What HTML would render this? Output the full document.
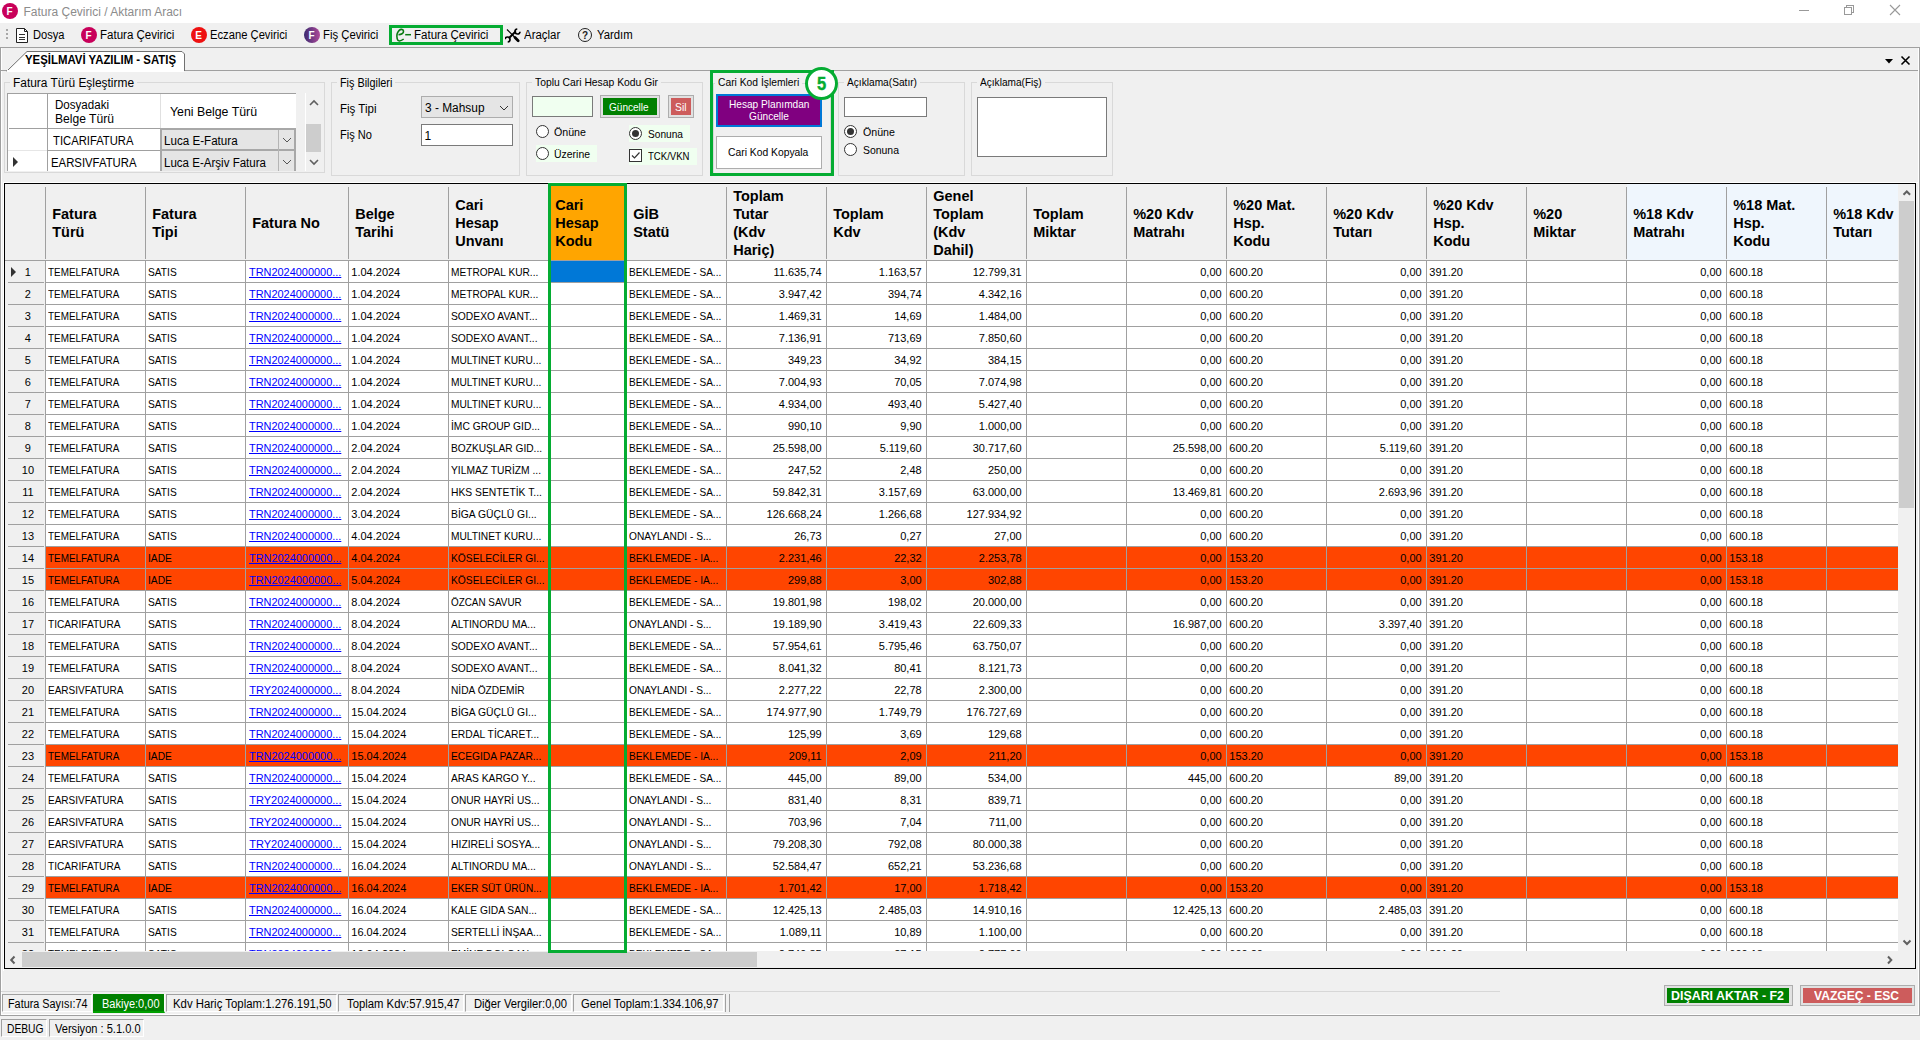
<!DOCTYPE html>
<html><head><meta charset="utf-8"><title>Fatura Çevirici</title>
<style>
html,body{margin:0;padding:0;}
body{width:1920px;height:1040px;overflow:hidden;background:#f0f0f0;position:relative;font-family:"Liberation Sans",sans-serif;}
div,span,svg{position:absolute;}
.t{white-space:pre;display:block;}
</style></head><body>
<div style="left:0px;top:0px;width:1920px;height:23px;background:#fff"></div>
<div style="left:2px;top:3px;width:16px;height:16px;background:#c8005a;border-radius:50%"></div>
<span class="t" style="left:6.60px;top:7.04px;font-size:10px;line-height:10px;font-weight:bold;color:#fff;transform-origin:0 0;">F</span>
<span class="t" style="left:23.50px;top:5.84px;font-size:12px;line-height:12px;color:#8c8c8c;transform-origin:0 0;">Fatura Çevirici / Aktarım Aracı</span>
<div style="left:1799px;top:10px;width:10px;height:1px;background:#999"></div>
<div style="left:1846px;top:5px;width:8px;height:8px;border:1px solid #999;box-sizing:border-box"></div>
<div style="left:1844px;top:7px;width:8px;height:8px;border:1px solid #999;box-sizing:border-box;background:#fff"></div>
<svg style="position:absolute;left:1889px;top:4px" width="12" height="12"><path d="M1 1L11 11M11 1L1 11" stroke="#999" stroke-width="1.1"/></svg>
<div style="left:6px;top:29px;width:2px;height:2px;background:#a8a8a8"></div>
<div style="left:6px;top:33px;width:2px;height:2px;background:#a8a8a8"></div>
<div style="left:6px;top:37px;width:2px;height:2px;background:#a8a8a8"></div>
<svg style="position:absolute;left:15px;top:27px" width="14" height="17"><path d="M1.5 1.5H9.5L12.5 4.5V15.5H1.5Z" fill="#fff" stroke="#222" stroke-width="1"/><path d="M9.5 1.5V4.5H12.5" fill="none" stroke="#222"/><path d="M4 7.5H10M4 10.5H10M4 12.5H10" stroke="#333" stroke-width="1"/></svg>
<span class="t" style="left:33.30px;top:28.84px;font-size:12px;line-height:12px;color:#000;transform:scaleX(0.9260);transform-origin:0 0;">Dosya</span>
<div style="left:81px;top:27px;width:16px;height:16px;background:#c8005a;border-radius:50%"></div>
<span class="t" style="left:85.60px;top:31.04px;font-size:10px;line-height:10px;font-weight:bold;color:#fff;transform-origin:0 0;">F</span>
<span class="t" style="left:100.00px;top:28.84px;font-size:12px;line-height:12px;color:#000;transform:scaleX(0.9605);transform-origin:0 0;">Fatura Çevirici</span>
<div style="left:191px;top:27px;width:16px;height:16px;background:#ee1111;border-radius:50%"></div>
<span class="t" style="left:195.30px;top:31.04px;font-size:10px;line-height:10px;font-weight:bold;color:#fff;transform-origin:0 0;">E</span>
<span class="t" style="left:210.00px;top:28.84px;font-size:12px;line-height:12px;color:#000;transform:scaleX(0.9347);transform-origin:0 0;">Eczane Çevirici</span>
<div style="left:304px;top:27px;width:16px;height:16px;background:linear-gradient(90deg,#3a2a70,#b04a9a);border-radius:50%"></div>
<span class="t" style="left:308.60px;top:31.04px;font-size:10px;line-height:10px;font-weight:bold;color:#fff;transform-origin:0 0;">F</span>
<span class="t" style="left:323.30px;top:28.84px;font-size:12px;line-height:12px;color:#000;transform:scaleX(0.9423);transform-origin:0 0;">Fiş Çevirici</span>
<div style="left:389px;top:25px;width:114px;height:20px;border:3px solid #05ac32;box-sizing:border-box"></div>
<svg style="position:absolute;left:394px;top:28px" width="18" height="15"><path d="M4.5 6.7C7 6.5 9.8 5.5 9.5 3.2C9.2 0.8 6.5 1 5 2.6C3.2 4.5 2.5 8 3.2 10.8C3.8 13.5 6.2 13.8 9.7 11" fill="none" stroke="#0a7a12" stroke-width="1.6"/><path d="M11.2 6.7H17" stroke="#0a7a12" stroke-width="1.5"/></svg>
<span class="t" style="left:414.30px;top:28.84px;font-size:12px;line-height:12px;color:#000;transform:scaleX(0.9605);transform-origin:0 0;">Fatura Çevirici</span>
<svg style="position:absolute;left:505px;top:28px" width="16" height="16"><path d="M2 1.5L9.5 9" stroke="#000" stroke-width="1.2"/><path d="M10 9.5L13.2 12.7" stroke="#000" stroke-width="2.8" stroke-linecap="round"/><path d="M3.8 10.2L10.8 3.3" stroke="#000" stroke-width="2"/><path d="M15 3.7A2.5 2.5 0 1 1 12.28 1.0" fill="none" stroke="#000" stroke-width="1.7"/><path d="M0.01 11.28A2.5 2.5 0 1 1 2.72 13.99" fill="none" stroke="#000" stroke-width="1.7"/></svg>
<span class="t" style="left:524.30px;top:28.84px;font-size:12px;line-height:12px;color:#000;transform:scaleX(0.9549);transform-origin:0 0;">Araçlar</span>
<div style="left:578px;top:28px;width:14px;height:14px;border:1.3px solid #222;border-radius:50%;box-sizing:border-box"></div>
<span class="t" style="left:581.95px;top:30.54px;font-size:10px;line-height:10px;font-weight:bold;color:#222;transform-origin:0 0;">?</span>
<span class="t" style="left:596.70px;top:28.84px;font-size:12px;line-height:12px;color:#000;transform:scaleX(0.9449);transform-origin:0 0;">Yardım</span>
<div style="left:0px;top:47px;width:1920px;height:1px;background:#a0a0a0"></div>
<div style="left:0px;top:47px;width:1px;height:969px;background:#a0a0a0"></div>
<div style="left:1919px;top:47px;width:1px;height:969px;background:#a0a0a0"></div>
<div style="left:1px;top:48px;width:1px;height:967px;background:#fff"></div>
<div style="left:0px;top:70px;width:1920px;height:1px;background:#a0a0a0"></div>
<svg style="position:absolute;left:0;top:50px" width="190" height="22"><path d="M6.5 21H7L27 1.5H182L184.5 4V21" fill="#fff" stroke="#707070" stroke-width="1"/><rect x="7" y="20" width="177" height="2" fill="#fff"/></svg>
<span class="t" style="left:24.80px;top:53.84px;font-size:12px;line-height:12px;font-weight:bold;color:#000;transform:scaleX(0.9505);transform-origin:0 0;">YEŞİLMAVİ YAZILIM - SATIŞ</span>
<svg style="position:absolute;left:1884px;top:55px" width="30" height="11"><path d="M1 4H9L5 8.5Z" fill="#000"/><path d="M17.5 1.5L25.5 9.5M25.5 1.5L17.5 9.5" stroke="#000" stroke-width="1.6"/></svg>
<div style="left:4px;top:82px;width:321px;height:91px;border:1px solid #d9d9d9;box-sizing:border-box"></div>
<div style="left:10.4px;top:76px;width:127px;height:12px;background:#f0f0f0"></div>
<span class="t" style="left:13.40px;top:77.14px;font-size:12px;line-height:12px;color:#000;transform:scaleX(0.9935);transform-origin:0 0;">Fatura Türü Eşleştirme</span>
<div style="left:7px;top:93px;width:289px;height:78px;background:#fff;border-top:1px solid #a0a0a0;border-left:1px solid #a0a0a0;box-sizing:border-box"></div>
<div style="left:47px;top:94px;width:1px;height:77px;background:#a0a0a0"></div>
<div style="left:160px;top:94px;width:1px;height:35px;background:#e0e0e0"></div>
<div style="left:9px;top:128px;width:287px;height:1px;background:#a0a0a0"></div>
<div style="left:8px;top:150px;width:39px;height:1px;background:#e6e6e6"></div>
<div style="left:48px;top:150px;width:113px;height:1px;background:#a0a0a0"></div>
<span class="t" style="left:55.30px;top:99.14px;font-size:12px;line-height:12px;color:#000;transform:scaleX(0.9637);transform-origin:0 0;">Dosyadaki</span>
<span class="t" style="left:55.30px;top:113.14px;font-size:12px;line-height:12px;color:#000;transform:scaleX(1.0091);transform-origin:0 0;">Belge Türü</span>
<span class="t" style="left:169.60px;top:106.34px;font-size:12px;line-height:12px;color:#000;transform:scaleX(1.0269);transform-origin:0 0;">Yeni Belge Türü</span>
<span class="t" style="left:52.80px;top:134.84px;font-size:12px;line-height:12px;color:#000;transform:scaleX(0.9384);transform-origin:0 0;">TICARIFATURA</span>
<span class="t" style="left:51.00px;top:156.84px;font-size:12px;line-height:12px;color:#000;transform:scaleX(0.9452);transform-origin:0 0;">EARSIVFATURA</span>
<div style="left:160px;top:128px;width:136px;height:43px;background:#e5e5e5;border:2px solid #a8a8a8;border-bottom:none;box-sizing:border-box"></div>
<div style="left:160px;top:149px;width:136px;height:2px;background:#a8a8a8"></div>
<div style="left:278px;top:130px;width:1px;height:41px;background:#b4b4b4"></div>
<span class="t" style="left:164.00px;top:134.84px;font-size:12px;line-height:12px;color:#000;transform:scaleX(0.9682);transform-origin:0 0;">Luca E-Fatura</span>
<span class="t" style="left:164.00px;top:157.04px;font-size:12px;line-height:12px;color:#000;transform:scaleX(0.9621);transform-origin:0 0;">Luca E-Arşiv Fatura</span>
<svg style="position:absolute;left:282px;top:137px" width="10" height="6"><path d="M1 1L5 5L9 1" fill="none" stroke="#555" stroke-width="1"/></svg>
<svg style="position:absolute;left:282px;top:158.5px" width="10" height="6"><path d="M1 1L5 5L9 1" fill="none" stroke="#555" stroke-width="1"/></svg>
<svg style="position:absolute;left:13px;top:157px" width="6" height="10"><path d="M0 0L5 5L0 10Z" fill="#333"/></svg>
<div style="left:305px;top:93px;width:19px;height:78px;background:#f0f0f0;border-left:1px solid #fff;box-sizing:border-box"></div>
<div style="left:306px;top:124px;width:15px;height:28px;background:#cdcdcd"></div>
<svg style="position:absolute;left:309px;top:99px" width="10" height="7"><path d="M1 6L5 2L9 6" fill="none" stroke="#606060" stroke-width="1.6"/></svg>
<svg style="position:absolute;left:309px;top:159px" width="10" height="7"><path d="M1 1L5 5L9 1" fill="none" stroke="#606060" stroke-width="1.6"/></svg>
<div style="left:331px;top:82px;width:189px;height:94px;border:1px solid #d9d9d9;box-sizing:border-box"></div>
<div style="left:337px;top:76px;width:58.4px;height:12px;background:#f0f0f0"></div>
<span class="t" style="left:340.00px;top:77.14px;font-size:12px;line-height:12px;color:#000;transform:scaleX(0.9030);transform-origin:0 0;">Fiş Bilgileri</span>
<span class="t" style="left:340.00px;top:103.34px;font-size:12px;line-height:12px;color:#000;transform:scaleX(0.9601);transform-origin:0 0;">Fiş Tipi</span>
<span class="t" style="left:340.00px;top:128.64px;font-size:12px;line-height:12px;color:#000;transform:scaleX(0.9229);transform-origin:0 0;">Fiş No</span>
<div style="left:421px;top:96px;width:92px;height:22px;background:#e5e5e5;border:1px solid #adadad;box-sizing:border-box"></div>
<span class="t" style="left:424.80px;top:101.84px;font-size:12px;line-height:12px;color:#000;transform:scaleX(0.9914);transform-origin:0 0;">3 - Mahsup</span>
<svg style="position:absolute;left:499px;top:105px" width="10" height="6"><path d="M1 1L5 5L9 1" fill="none" stroke="#333" stroke-width="1"/></svg>
<div style="left:421px;top:124px;width:92px;height:22px;background:#fff;border:1px solid #7a7a7a;box-sizing:border-box"></div>
<span class="t" style="left:424.50px;top:129.84px;font-size:12px;line-height:12px;color:#000;transform-origin:0 0;">1</span>
<div style="left:526px;top:82px;width:177px;height:94px;border:1px solid #d9d9d9;box-sizing:border-box"></div>
<div style="left:531.8px;top:76px;width:129px;height:12px;background:#f0f0f0"></div>
<span class="t" style="left:534.80px;top:76.59px;font-size:11px;line-height:11px;color:#000;transform:scaleX(0.9396);transform-origin:0 0;">Toplu Cari Hesap Kodu Gir</span>
<div style="left:532px;top:96px;width:61px;height:21px;background:#f0fff0;border:1px solid #7a7a7a;box-sizing:border-box"></div>
<div style="left:600px;top:95px;width:60px;height:23px;background:#e1e1e1;border:1px solid #adadad;box-sizing:border-box"></div>
<div style="left:603px;top:98px;width:54px;height:17px;background:#008000"></div>
<span class="t" style="left:608.70px;top:102.19px;font-size:11px;line-height:11px;color:#fff;transform:scaleX(0.9140);transform-origin:0 0;">Güncelle</span>
<div style="left:668px;top:95px;width:26px;height:23px;background:#e1e1e1;border:1px solid #adadad;box-sizing:border-box"></div>
<div style="left:671px;top:98px;width:20px;height:17px;background:#cd5c5c"></div>
<span class="t" style="left:674.50px;top:102.19px;font-size:11px;line-height:11px;color:#fff;transform:scaleX(0.9412);transform-origin:0 0;">Sil</span>
<div style="left:535.9px;top:124.80000000000001px;width:13px;height:13px;border:1px solid #333;border-radius:50%;box-sizing:border-box;background:#fff"></div>
<span class="t" style="left:554.40px;top:126.69px;font-size:11px;line-height:11px;color:#000;transform:scaleX(0.9679);transform-origin:0 0;">Önüne</span>
<div style="left:536px;top:145px;width:61px;height:17px;background:#f0fff0"></div>
<div style="left:535.9px;top:147.1px;width:13px;height:13px;border:1px solid #333;border-radius:50%;box-sizing:border-box;background:#fff"></div>
<span class="t" style="left:554.40px;top:148.69px;font-size:11px;line-height:11px;color:#000;transform:scaleX(0.9497);transform-origin:0 0;">Üzerine</span>
<div style="left:629px;top:125px;width:61px;height:17px;background:#f0fff0"></div>
<div style="left:628.8px;top:127.0px;width:13px;height:13px;border:1px solid #333;border-radius:50%;box-sizing:border-box;background:#fff"></div>
<div style="left:631.8px;top:130.0px;width:7px;height:7px;background:#333;border-radius:50%"></div>
<span class="t" style="left:647.60px;top:128.69px;font-size:11px;line-height:11px;color:#000;transform:scaleX(0.9218);transform-origin:0 0;">Sonuna</span>
<div style="left:629px;top:148px;width:68px;height:17px;background:#f0fff0"></div>
<div style="left:629px;top:149px;width:13px;height:13px;border:1px solid #333;box-sizing:border-box;background:#fff"></div>
<svg style="position:absolute;left:630px;top:150px" width="11" height="11"><path d="M2 5.5L4.5 8L9.5 2.5" fill="none" stroke="#333" stroke-width="1.2"/></svg>
<span class="t" style="left:647.50px;top:151.19px;font-size:11px;line-height:11px;color:#000;transform:scaleX(0.8702);transform-origin:0 0;">TCK/VKN</span>
<div style="left:713px;top:83px;width:118px;height:93px;border:1px solid #d9d9d9;box-sizing:border-box"></div>
<div style="left:714.8px;top:77px;width:87.2px;height:12px;background:#f0f0f0"></div>
<span class="t" style="left:717.80px;top:76.59px;font-size:11px;line-height:11px;color:#000;transform:scaleX(0.9353);transform-origin:0 0;">Cari Kod İşlemleri</span>
<div style="left:716px;top:94px;width:106px;height:33px;background:#800080;border:2px solid #0078d7;box-sizing:border-box"></div>
<span class="t" style="left:728.75px;top:98.69px;font-size:11px;line-height:11px;color:#fff;transform:scaleX(0.9200);transform-origin:0 0;">Hesap Planımdan</span>
<span class="t" style="left:749.00px;top:111.19px;font-size:11px;line-height:11px;color:#fff;transform:scaleX(0.9209);transform-origin:0 0;">Güncelle</span>
<div style="left:716px;top:136px;width:106px;height:33px;background:#fff;border:1px solid #adadad;box-sizing:border-box"></div>
<span class="t" style="left:727.60px;top:147.19px;font-size:11px;line-height:11px;color:#000;transform:scaleX(0.9386);transform-origin:0 0;">Cari Kod Kopyala</span>
<div style="left:710px;top:70px;width:124px;height:106px;border:3px solid #05ac32;box-sizing:border-box"></div>
<div style="left:805px;top:67px;width:33px;height:33px;border:3px solid #05ac32;border-radius:50%;box-sizing:border-box;background:#fff"></div>
<span class="t" style="left:817.00px;top:75.06px;font-size:18px;line-height:18px;font-weight:bold;color:#05ac32;transform:scaleX(0.9186);transform-origin:0 0;-webkit-text-stroke:0.4px #05ac32;">5</span>
<div style="left:838px;top:82px;width:127px;height:94px;border:1px solid #d9d9d9;box-sizing:border-box"></div>
<div style="left:843.9px;top:76px;width:76px;height:12px;background:#f0f0f0"></div>
<span class="t" style="left:846.90px;top:76.59px;font-size:11px;line-height:11px;color:#000;transform:scaleX(0.9233);transform-origin:0 0;">Açıklama(Satır)</span>
<div style="left:844px;top:97px;width:83px;height:20px;background:#fff;border:1px solid #7a7a7a;box-sizing:border-box"></div>
<div style="left:843.8px;top:124.9px;width:13px;height:13px;border:1px solid #333;border-radius:50%;box-sizing:border-box;background:#fff"></div>
<div style="left:846.8px;top:127.9px;width:7px;height:7px;background:#333;border-radius:50%"></div>
<span class="t" style="left:862.50px;top:126.69px;font-size:11px;line-height:11px;color:#000;transform:scaleX(0.9679);transform-origin:0 0;">Önüne</span>
<div style="left:843.8px;top:142.9px;width:13px;height:13px;border:1px solid #333;border-radius:50%;box-sizing:border-box;background:#fff"></div>
<span class="t" style="left:862.50px;top:144.69px;font-size:11px;line-height:11px;color:#000;transform:scaleX(0.9481);transform-origin:0 0;">Sonuna</span>
<div style="left:971px;top:82px;width:142px;height:94px;border:1px solid #d9d9d9;box-sizing:border-box"></div>
<div style="left:977px;top:76px;width:67.7px;height:12px;background:#f0f0f0"></div>
<span class="t" style="left:980.00px;top:76.59px;font-size:11px;line-height:11px;color:#000;transform:scaleX(0.9179);transform-origin:0 0;">Açıklama(Fiş)</span>
<div style="left:977px;top:97px;width:130px;height:60px;background:#fff;border:1px solid #7a7a7a;box-sizing:border-box"></div>
<div style="left:3px;top:182px;width:1914px;height:788px;border-top:1px solid #fff;border-left:1px solid #fff"></div>
<div style="left:4px;top:183px;width:1912px;height:786px;border:1px solid #000;box-sizing:border-box;background:#f0f0f0"></div>
<div style="left:5px;top:184px;width:1px;height:767px;background:#f8f8f8"></div>
<div style="left:5px;top:184px;width:1893px;height:76px;background:#f0f0f0"></div>
<div style="left:1627px;top:184px;width:271px;height:76px;background:#eff6fd"></div>
<div style="left:549px;top:184px;width:77px;height:76px;background:#ffa500"></div>
<div style="left:45px;top:187px;width:1px;height:72px;background:#a0a0a0"></div>
<div style="left:145px;top:187px;width:1px;height:72px;background:#a0a0a0"></div>
<div style="left:245px;top:187px;width:1px;height:72px;background:#a0a0a0"></div>
<div style="left:348px;top:187px;width:1px;height:72px;background:#a0a0a0"></div>
<div style="left:448px;top:187px;width:1px;height:72px;background:#a0a0a0"></div>
<div style="left:726px;top:187px;width:1px;height:72px;background:#a0a0a0"></div>
<div style="left:826px;top:187px;width:1px;height:72px;background:#a0a0a0"></div>
<div style="left:926px;top:187px;width:1px;height:72px;background:#a0a0a0"></div>
<div style="left:1026px;top:187px;width:1px;height:72px;background:#a0a0a0"></div>
<div style="left:1126px;top:187px;width:1px;height:72px;background:#a0a0a0"></div>
<div style="left:1226px;top:187px;width:1px;height:72px;background:#a0a0a0"></div>
<div style="left:1326px;top:187px;width:1px;height:72px;background:#a0a0a0"></div>
<div style="left:1426px;top:187px;width:1px;height:72px;background:#a0a0a0"></div>
<div style="left:1526px;top:187px;width:1px;height:72px;background:#a0a0a0"></div>
<div style="left:1626px;top:187px;width:1px;height:72px;background:#a0a0a0"></div>
<div style="left:1726px;top:187px;width:1px;height:72px;background:#a0a0a0"></div>
<div style="left:1826px;top:187px;width:1px;height:72px;background:#a0a0a0"></div>
<div style="left:5px;top:260px;width:1893px;height:1px;background:#a0a0a0"></div>
<span class="t" style="left:52.20px;top:207.15px;font-size:14.5px;line-height:14.5px;font-weight:bold;color:#000;transform-origin:0 0;">Fatura</span>
<span class="t" style="left:52.20px;top:224.90px;font-size:14.5px;line-height:14.5px;font-weight:bold;color:#000;transform-origin:0 0;">Türü</span>
<span class="t" style="left:152.20px;top:207.15px;font-size:14.5px;line-height:14.5px;font-weight:bold;color:#000;transform-origin:0 0;">Fatura</span>
<span class="t" style="left:152.20px;top:224.90px;font-size:14.5px;line-height:14.5px;font-weight:bold;color:#000;transform-origin:0 0;">Tipi</span>
<span class="t" style="left:252.20px;top:216.03px;font-size:14.5px;line-height:14.5px;font-weight:bold;color:#000;transform-origin:0 0;">Fatura No</span>
<span class="t" style="left:355.20px;top:207.15px;font-size:14.5px;line-height:14.5px;font-weight:bold;color:#000;transform-origin:0 0;">Belge</span>
<span class="t" style="left:355.20px;top:224.90px;font-size:14.5px;line-height:14.5px;font-weight:bold;color:#000;transform-origin:0 0;">Tarihi</span>
<span class="t" style="left:455.20px;top:198.28px;font-size:14.5px;line-height:14.5px;font-weight:bold;color:#000;transform-origin:0 0;">Cari</span>
<span class="t" style="left:455.20px;top:216.03px;font-size:14.5px;line-height:14.5px;font-weight:bold;color:#000;transform-origin:0 0;">Hesap</span>
<span class="t" style="left:455.20px;top:233.78px;font-size:14.5px;line-height:14.5px;font-weight:bold;color:#000;transform-origin:0 0;">Unvanı</span>
<span class="t" style="left:555.20px;top:198.28px;font-size:14.5px;line-height:14.5px;font-weight:bold;color:#000;transform-origin:0 0;">Cari</span>
<span class="t" style="left:555.20px;top:216.03px;font-size:14.5px;line-height:14.5px;font-weight:bold;color:#000;transform-origin:0 0;">Hesap</span>
<span class="t" style="left:555.20px;top:233.78px;font-size:14.5px;line-height:14.5px;font-weight:bold;color:#000;transform-origin:0 0;">Kodu</span>
<span class="t" style="left:633.20px;top:207.15px;font-size:14.5px;line-height:14.5px;font-weight:bold;color:#000;transform-origin:0 0;">GİB</span>
<span class="t" style="left:633.20px;top:224.90px;font-size:14.5px;line-height:14.5px;font-weight:bold;color:#000;transform-origin:0 0;">Statü</span>
<span class="t" style="left:733.20px;top:189.40px;font-size:14.5px;line-height:14.5px;font-weight:bold;color:#000;transform-origin:0 0;">Toplam</span>
<span class="t" style="left:733.20px;top:207.15px;font-size:14.5px;line-height:14.5px;font-weight:bold;color:#000;transform-origin:0 0;">Tutar</span>
<span class="t" style="left:733.20px;top:224.90px;font-size:14.5px;line-height:14.5px;font-weight:bold;color:#000;transform-origin:0 0;">(Kdv</span>
<span class="t" style="left:733.20px;top:242.65px;font-size:14.5px;line-height:14.5px;font-weight:bold;color:#000;transform-origin:0 0;">Hariç)</span>
<span class="t" style="left:833.20px;top:207.15px;font-size:14.5px;line-height:14.5px;font-weight:bold;color:#000;transform-origin:0 0;">Toplam</span>
<span class="t" style="left:833.20px;top:224.90px;font-size:14.5px;line-height:14.5px;font-weight:bold;color:#000;transform-origin:0 0;">Kdv</span>
<span class="t" style="left:933.20px;top:189.40px;font-size:14.5px;line-height:14.5px;font-weight:bold;color:#000;transform-origin:0 0;">Genel</span>
<span class="t" style="left:933.20px;top:207.15px;font-size:14.5px;line-height:14.5px;font-weight:bold;color:#000;transform-origin:0 0;">Toplam</span>
<span class="t" style="left:933.20px;top:224.90px;font-size:14.5px;line-height:14.5px;font-weight:bold;color:#000;transform-origin:0 0;">(Kdv</span>
<span class="t" style="left:933.20px;top:242.65px;font-size:14.5px;line-height:14.5px;font-weight:bold;color:#000;transform-origin:0 0;">Dahil)</span>
<span class="t" style="left:1033.20px;top:207.15px;font-size:14.5px;line-height:14.5px;font-weight:bold;color:#000;transform-origin:0 0;">Toplam</span>
<span class="t" style="left:1033.20px;top:224.90px;font-size:14.5px;line-height:14.5px;font-weight:bold;color:#000;transform-origin:0 0;">Miktar</span>
<span class="t" style="left:1133.20px;top:207.15px;font-size:14.5px;line-height:14.5px;font-weight:bold;color:#000;transform-origin:0 0;">%20 Kdv</span>
<span class="t" style="left:1133.20px;top:224.90px;font-size:14.5px;line-height:14.5px;font-weight:bold;color:#000;transform-origin:0 0;">Matrahı</span>
<span class="t" style="left:1233.20px;top:198.28px;font-size:14.5px;line-height:14.5px;font-weight:bold;color:#000;transform-origin:0 0;">%20 Mat.</span>
<span class="t" style="left:1233.20px;top:216.03px;font-size:14.5px;line-height:14.5px;font-weight:bold;color:#000;transform-origin:0 0;">Hsp.</span>
<span class="t" style="left:1233.20px;top:233.78px;font-size:14.5px;line-height:14.5px;font-weight:bold;color:#000;transform-origin:0 0;">Kodu</span>
<span class="t" style="left:1333.20px;top:207.15px;font-size:14.5px;line-height:14.5px;font-weight:bold;color:#000;transform-origin:0 0;">%20 Kdv</span>
<span class="t" style="left:1333.20px;top:224.90px;font-size:14.5px;line-height:14.5px;font-weight:bold;color:#000;transform-origin:0 0;">Tutarı</span>
<span class="t" style="left:1433.20px;top:198.28px;font-size:14.5px;line-height:14.5px;font-weight:bold;color:#000;transform-origin:0 0;">%20 Kdv</span>
<span class="t" style="left:1433.20px;top:216.03px;font-size:14.5px;line-height:14.5px;font-weight:bold;color:#000;transform-origin:0 0;">Hsp.</span>
<span class="t" style="left:1433.20px;top:233.78px;font-size:14.5px;line-height:14.5px;font-weight:bold;color:#000;transform-origin:0 0;">Kodu</span>
<span class="t" style="left:1533.20px;top:207.15px;font-size:14.5px;line-height:14.5px;font-weight:bold;color:#000;transform-origin:0 0;">%20</span>
<span class="t" style="left:1533.20px;top:224.90px;font-size:14.5px;line-height:14.5px;font-weight:bold;color:#000;transform-origin:0 0;">Miktar</span>
<span class="t" style="left:1633.20px;top:207.15px;font-size:14.5px;line-height:14.5px;font-weight:bold;color:#000;transform-origin:0 0;">%18 Kdv</span>
<span class="t" style="left:1633.20px;top:224.90px;font-size:14.5px;line-height:14.5px;font-weight:bold;color:#000;transform-origin:0 0;">Matrahı</span>
<span class="t" style="left:1733.20px;top:198.28px;font-size:14.5px;line-height:14.5px;font-weight:bold;color:#000;transform-origin:0 0;">%18 Mat.</span>
<span class="t" style="left:1733.20px;top:216.03px;font-size:14.5px;line-height:14.5px;font-weight:bold;color:#000;transform-origin:0 0;">Hsp.</span>
<span class="t" style="left:1733.20px;top:233.78px;font-size:14.5px;line-height:14.5px;font-weight:bold;color:#000;transform-origin:0 0;">Kodu</span>
<span class="t" style="left:1833.20px;top:207.15px;font-size:14.5px;line-height:14.5px;font-weight:bold;color:#000;transform-origin:0 0;">%18 Kdv</span>
<span class="t" style="left:1833.20px;top:224.90px;font-size:14.5px;line-height:14.5px;font-weight:bold;color:#000;transform-origin:0 0;">Tutarı</span>
<div style="left:46px;top:261px;width:1852px;height:690px;background:#fff"></div>
<div style="left:5px;top:261px;width:40px;height:690px;background:#f0f0f0"></div>
<div style="left:46px;top:282px;width:1852px;height:1px;background:#a0a0a0"></div>
<div style="left:8px;top:282px;width:36px;height:1px;background:#a0a0a0"></div>
<div style="left:46px;top:304px;width:1852px;height:1px;background:#a0a0a0"></div>
<div style="left:8px;top:304px;width:36px;height:1px;background:#a0a0a0"></div>
<div style="left:46px;top:326px;width:1852px;height:1px;background:#a0a0a0"></div>
<div style="left:8px;top:326px;width:36px;height:1px;background:#a0a0a0"></div>
<div style="left:46px;top:348px;width:1852px;height:1px;background:#a0a0a0"></div>
<div style="left:8px;top:348px;width:36px;height:1px;background:#a0a0a0"></div>
<div style="left:46px;top:370px;width:1852px;height:1px;background:#a0a0a0"></div>
<div style="left:8px;top:370px;width:36px;height:1px;background:#a0a0a0"></div>
<div style="left:46px;top:392px;width:1852px;height:1px;background:#a0a0a0"></div>
<div style="left:8px;top:392px;width:36px;height:1px;background:#a0a0a0"></div>
<div style="left:46px;top:414px;width:1852px;height:1px;background:#a0a0a0"></div>
<div style="left:8px;top:414px;width:36px;height:1px;background:#a0a0a0"></div>
<div style="left:46px;top:436px;width:1852px;height:1px;background:#a0a0a0"></div>
<div style="left:8px;top:436px;width:36px;height:1px;background:#a0a0a0"></div>
<div style="left:46px;top:458px;width:1852px;height:1px;background:#a0a0a0"></div>
<div style="left:8px;top:458px;width:36px;height:1px;background:#a0a0a0"></div>
<div style="left:46px;top:480px;width:1852px;height:1px;background:#a0a0a0"></div>
<div style="left:8px;top:480px;width:36px;height:1px;background:#a0a0a0"></div>
<div style="left:46px;top:502px;width:1852px;height:1px;background:#a0a0a0"></div>
<div style="left:8px;top:502px;width:36px;height:1px;background:#a0a0a0"></div>
<div style="left:46px;top:524px;width:1852px;height:1px;background:#a0a0a0"></div>
<div style="left:8px;top:524px;width:36px;height:1px;background:#a0a0a0"></div>
<div style="left:46px;top:546px;width:1852px;height:1px;background:#a0a0a0"></div>
<div style="left:8px;top:546px;width:36px;height:1px;background:#a0a0a0"></div>
<div style="left:46px;top:547px;width:1852px;height:21px;background:#ff4500"></div>
<div style="left:46px;top:568px;width:1852px;height:1px;background:#a0a0a0"></div>
<div style="left:8px;top:568px;width:36px;height:1px;background:#a0a0a0"></div>
<div style="left:46px;top:569px;width:1852px;height:21px;background:#ff4500"></div>
<div style="left:46px;top:590px;width:1852px;height:1px;background:#a0a0a0"></div>
<div style="left:8px;top:590px;width:36px;height:1px;background:#a0a0a0"></div>
<div style="left:46px;top:612px;width:1852px;height:1px;background:#a0a0a0"></div>
<div style="left:8px;top:612px;width:36px;height:1px;background:#a0a0a0"></div>
<div style="left:46px;top:634px;width:1852px;height:1px;background:#a0a0a0"></div>
<div style="left:8px;top:634px;width:36px;height:1px;background:#a0a0a0"></div>
<div style="left:46px;top:656px;width:1852px;height:1px;background:#a0a0a0"></div>
<div style="left:8px;top:656px;width:36px;height:1px;background:#a0a0a0"></div>
<div style="left:46px;top:678px;width:1852px;height:1px;background:#a0a0a0"></div>
<div style="left:8px;top:678px;width:36px;height:1px;background:#a0a0a0"></div>
<div style="left:46px;top:700px;width:1852px;height:1px;background:#a0a0a0"></div>
<div style="left:8px;top:700px;width:36px;height:1px;background:#a0a0a0"></div>
<div style="left:46px;top:722px;width:1852px;height:1px;background:#a0a0a0"></div>
<div style="left:8px;top:722px;width:36px;height:1px;background:#a0a0a0"></div>
<div style="left:46px;top:744px;width:1852px;height:1px;background:#a0a0a0"></div>
<div style="left:8px;top:744px;width:36px;height:1px;background:#a0a0a0"></div>
<div style="left:46px;top:745px;width:1852px;height:21px;background:#ff4500"></div>
<div style="left:46px;top:766px;width:1852px;height:1px;background:#a0a0a0"></div>
<div style="left:8px;top:766px;width:36px;height:1px;background:#a0a0a0"></div>
<div style="left:46px;top:788px;width:1852px;height:1px;background:#a0a0a0"></div>
<div style="left:8px;top:788px;width:36px;height:1px;background:#a0a0a0"></div>
<div style="left:46px;top:810px;width:1852px;height:1px;background:#a0a0a0"></div>
<div style="left:8px;top:810px;width:36px;height:1px;background:#a0a0a0"></div>
<div style="left:46px;top:832px;width:1852px;height:1px;background:#a0a0a0"></div>
<div style="left:8px;top:832px;width:36px;height:1px;background:#a0a0a0"></div>
<div style="left:46px;top:854px;width:1852px;height:1px;background:#a0a0a0"></div>
<div style="left:8px;top:854px;width:36px;height:1px;background:#a0a0a0"></div>
<div style="left:46px;top:876px;width:1852px;height:1px;background:#a0a0a0"></div>
<div style="left:8px;top:876px;width:36px;height:1px;background:#a0a0a0"></div>
<div style="left:46px;top:877px;width:1852px;height:21px;background:#ff4500"></div>
<div style="left:46px;top:898px;width:1852px;height:1px;background:#a0a0a0"></div>
<div style="left:8px;top:898px;width:36px;height:1px;background:#a0a0a0"></div>
<div style="left:46px;top:920px;width:1852px;height:1px;background:#a0a0a0"></div>
<div style="left:8px;top:920px;width:36px;height:1px;background:#a0a0a0"></div>
<div style="left:46px;top:942px;width:1852px;height:1px;background:#a0a0a0"></div>
<div style="left:8px;top:942px;width:36px;height:1px;background:#a0a0a0"></div>
<div style="left:46px;top:964px;width:1852px;height:1px;background:#a0a0a0"></div>
<div style="left:8px;top:964px;width:36px;height:1px;background:#a0a0a0"></div>
<div style="left:549px;top:261px;width:77px;height:21px;background:#0078d7"></div>
<div style="left:45px;top:261px;width:1px;height:690px;background:#a0a0a0"></div>
<div style="left:145px;top:261px;width:1px;height:690px;background:#a0a0a0"></div>
<div style="left:245px;top:261px;width:1px;height:690px;background:#a0a0a0"></div>
<div style="left:348px;top:261px;width:1px;height:690px;background:#a0a0a0"></div>
<div style="left:448px;top:261px;width:1px;height:690px;background:#a0a0a0"></div>
<div style="left:548px;top:261px;width:1px;height:690px;background:#a0a0a0"></div>
<div style="left:626px;top:261px;width:1px;height:690px;background:#a0a0a0"></div>
<div style="left:726px;top:261px;width:1px;height:690px;background:#a0a0a0"></div>
<div style="left:826px;top:261px;width:1px;height:690px;background:#a0a0a0"></div>
<div style="left:926px;top:261px;width:1px;height:690px;background:#a0a0a0"></div>
<div style="left:1026px;top:261px;width:1px;height:690px;background:#a0a0a0"></div>
<div style="left:1126px;top:261px;width:1px;height:690px;background:#a0a0a0"></div>
<div style="left:1226px;top:261px;width:1px;height:690px;background:#a0a0a0"></div>
<div style="left:1326px;top:261px;width:1px;height:690px;background:#a0a0a0"></div>
<div style="left:1426px;top:261px;width:1px;height:690px;background:#a0a0a0"></div>
<div style="left:1526px;top:261px;width:1px;height:690px;background:#a0a0a0"></div>
<div style="left:1626px;top:261px;width:1px;height:690px;background:#a0a0a0"></div>
<div style="left:1726px;top:261px;width:1px;height:690px;background:#a0a0a0"></div>
<div style="left:1826px;top:261px;width:1px;height:690px;background:#a0a0a0"></div>
<span class="t" style="left:24.84px;top:266.59px;font-size:11px;line-height:11px;color:#000;transform-origin:0 0;">1</span>
<span class="t" style="left:48.30px;top:266.59px;font-size:11px;line-height:11px;color:#000;transform:scaleX(0.9007);transform-origin:0 0;">TEMELFATURA</span>
<span class="t" style="left:148.30px;top:266.59px;font-size:11px;line-height:11px;color:#000;transform:scaleX(0.9278);transform-origin:0 0;">SATIS</span>
<span class="t" style="left:249.30px;top:266.59px;font-size:11px;line-height:11px;color:#0000ff;transform:scaleX(0.9932);transform-origin:0 0;text-decoration:underline;">TRN2024000000...</span>
<span class="t" style="left:351.30px;top:266.59px;font-size:11px;line-height:11px;color:#000;transform-origin:0 0;">1.04.2024</span>
<span class="t" style="left:451.30px;top:266.59px;font-size:11px;line-height:11px;color:#000;transform:scaleX(0.9211);transform-origin:0 0;">METROPAL KUR...</span>
<span class="t" style="left:629.30px;top:266.59px;font-size:11px;line-height:11px;color:#000;transform:scaleX(0.9146);transform-origin:0 0;">BEKLEMEDE - SA...</span>
<span class="t" style="left:773.51px;top:266.59px;font-size:11px;line-height:11px;color:#000;transform-origin:0 0;">11.635,74</span>
<span class="t" style="left:878.83px;top:266.59px;font-size:11px;line-height:11px;color:#000;transform-origin:0 0;">1.163,57</span>
<span class="t" style="left:972.70px;top:266.59px;font-size:11px;line-height:11px;color:#000;transform-origin:0 0;">12.799,31</span>
<span class="t" style="left:1200.26px;top:266.59px;font-size:11px;line-height:11px;color:#000;transform-origin:0 0;">0,00</span>
<span class="t" style="left:1229.30px;top:266.59px;font-size:11px;line-height:11px;color:#000;transform-origin:0 0;">600.20</span>
<span class="t" style="left:1400.26px;top:266.59px;font-size:11px;line-height:11px;color:#000;transform-origin:0 0;">0,00</span>
<span class="t" style="left:1429.30px;top:266.59px;font-size:11px;line-height:11px;color:#000;transform-origin:0 0;">391.20</span>
<span class="t" style="left:1700.26px;top:266.59px;font-size:11px;line-height:11px;color:#000;transform-origin:0 0;">0,00</span>
<span class="t" style="left:1729.30px;top:266.59px;font-size:11px;line-height:11px;color:#000;transform-origin:0 0;">600.18</span>
<span class="t" style="left:24.84px;top:288.59px;font-size:11px;line-height:11px;color:#000;transform-origin:0 0;">2</span>
<span class="t" style="left:48.30px;top:288.59px;font-size:11px;line-height:11px;color:#000;transform:scaleX(0.9007);transform-origin:0 0;">TEMELFATURA</span>
<span class="t" style="left:148.30px;top:288.59px;font-size:11px;line-height:11px;color:#000;transform:scaleX(0.9278);transform-origin:0 0;">SATIS</span>
<span class="t" style="left:249.30px;top:288.59px;font-size:11px;line-height:11px;color:#0000ff;transform:scaleX(0.9932);transform-origin:0 0;text-decoration:underline;">TRN2024000000...</span>
<span class="t" style="left:351.30px;top:288.59px;font-size:11px;line-height:11px;color:#000;transform-origin:0 0;">1.04.2024</span>
<span class="t" style="left:451.30px;top:288.59px;font-size:11px;line-height:11px;color:#000;transform:scaleX(0.9211);transform-origin:0 0;">METROPAL KUR...</span>
<span class="t" style="left:629.30px;top:288.59px;font-size:11px;line-height:11px;color:#000;transform:scaleX(0.9146);transform-origin:0 0;">BEKLEMEDE - SA...</span>
<span class="t" style="left:778.83px;top:288.59px;font-size:11px;line-height:11px;color:#000;transform-origin:0 0;">3.947,42</span>
<span class="t" style="left:888.01px;top:288.59px;font-size:11px;line-height:11px;color:#000;transform-origin:0 0;">394,74</span>
<span class="t" style="left:978.83px;top:288.59px;font-size:11px;line-height:11px;color:#000;transform-origin:0 0;">4.342,16</span>
<span class="t" style="left:1200.26px;top:288.59px;font-size:11px;line-height:11px;color:#000;transform-origin:0 0;">0,00</span>
<span class="t" style="left:1229.30px;top:288.59px;font-size:11px;line-height:11px;color:#000;transform-origin:0 0;">600.20</span>
<span class="t" style="left:1400.26px;top:288.59px;font-size:11px;line-height:11px;color:#000;transform-origin:0 0;">0,00</span>
<span class="t" style="left:1429.30px;top:288.59px;font-size:11px;line-height:11px;color:#000;transform-origin:0 0;">391.20</span>
<span class="t" style="left:1700.26px;top:288.59px;font-size:11px;line-height:11px;color:#000;transform-origin:0 0;">0,00</span>
<span class="t" style="left:1729.30px;top:288.59px;font-size:11px;line-height:11px;color:#000;transform-origin:0 0;">600.18</span>
<span class="t" style="left:24.84px;top:310.59px;font-size:11px;line-height:11px;color:#000;transform-origin:0 0;">3</span>
<span class="t" style="left:48.30px;top:310.59px;font-size:11px;line-height:11px;color:#000;transform:scaleX(0.9007);transform-origin:0 0;">TEMELFATURA</span>
<span class="t" style="left:148.30px;top:310.59px;font-size:11px;line-height:11px;color:#000;transform:scaleX(0.9278);transform-origin:0 0;">SATIS</span>
<span class="t" style="left:249.30px;top:310.59px;font-size:11px;line-height:11px;color:#0000ff;transform:scaleX(0.9932);transform-origin:0 0;text-decoration:underline;">TRN2024000000...</span>
<span class="t" style="left:351.30px;top:310.59px;font-size:11px;line-height:11px;color:#000;transform-origin:0 0;">1.04.2024</span>
<span class="t" style="left:451.30px;top:310.59px;font-size:11px;line-height:11px;color:#000;transform:scaleX(0.9354);transform-origin:0 0;">SODEXO AVANT...</span>
<span class="t" style="left:629.30px;top:310.59px;font-size:11px;line-height:11px;color:#000;transform:scaleX(0.9146);transform-origin:0 0;">BEKLEMEDE - SA...</span>
<span class="t" style="left:778.83px;top:310.59px;font-size:11px;line-height:11px;color:#000;transform-origin:0 0;">1.469,31</span>
<span class="t" style="left:894.14px;top:310.59px;font-size:11px;line-height:11px;color:#000;transform-origin:0 0;">14,69</span>
<span class="t" style="left:978.83px;top:310.59px;font-size:11px;line-height:11px;color:#000;transform-origin:0 0;">1.484,00</span>
<span class="t" style="left:1200.26px;top:310.59px;font-size:11px;line-height:11px;color:#000;transform-origin:0 0;">0,00</span>
<span class="t" style="left:1229.30px;top:310.59px;font-size:11px;line-height:11px;color:#000;transform-origin:0 0;">600.20</span>
<span class="t" style="left:1400.26px;top:310.59px;font-size:11px;line-height:11px;color:#000;transform-origin:0 0;">0,00</span>
<span class="t" style="left:1429.30px;top:310.59px;font-size:11px;line-height:11px;color:#000;transform-origin:0 0;">391.20</span>
<span class="t" style="left:1700.26px;top:310.59px;font-size:11px;line-height:11px;color:#000;transform-origin:0 0;">0,00</span>
<span class="t" style="left:1729.30px;top:310.59px;font-size:11px;line-height:11px;color:#000;transform-origin:0 0;">600.18</span>
<span class="t" style="left:24.84px;top:332.59px;font-size:11px;line-height:11px;color:#000;transform-origin:0 0;">4</span>
<span class="t" style="left:48.30px;top:332.59px;font-size:11px;line-height:11px;color:#000;transform:scaleX(0.9007);transform-origin:0 0;">TEMELFATURA</span>
<span class="t" style="left:148.30px;top:332.59px;font-size:11px;line-height:11px;color:#000;transform:scaleX(0.9278);transform-origin:0 0;">SATIS</span>
<span class="t" style="left:249.30px;top:332.59px;font-size:11px;line-height:11px;color:#0000ff;transform:scaleX(0.9932);transform-origin:0 0;text-decoration:underline;">TRN2024000000...</span>
<span class="t" style="left:351.30px;top:332.59px;font-size:11px;line-height:11px;color:#000;transform-origin:0 0;">1.04.2024</span>
<span class="t" style="left:451.30px;top:332.59px;font-size:11px;line-height:11px;color:#000;transform:scaleX(0.9354);transform-origin:0 0;">SODEXO AVANT...</span>
<span class="t" style="left:629.30px;top:332.59px;font-size:11px;line-height:11px;color:#000;transform:scaleX(0.9146);transform-origin:0 0;">BEKLEMEDE - SA...</span>
<span class="t" style="left:778.83px;top:332.59px;font-size:11px;line-height:11px;color:#000;transform-origin:0 0;">7.136,91</span>
<span class="t" style="left:888.01px;top:332.59px;font-size:11px;line-height:11px;color:#000;transform-origin:0 0;">713,69</span>
<span class="t" style="left:978.83px;top:332.59px;font-size:11px;line-height:11px;color:#000;transform-origin:0 0;">7.850,60</span>
<span class="t" style="left:1200.26px;top:332.59px;font-size:11px;line-height:11px;color:#000;transform-origin:0 0;">0,00</span>
<span class="t" style="left:1229.30px;top:332.59px;font-size:11px;line-height:11px;color:#000;transform-origin:0 0;">600.20</span>
<span class="t" style="left:1400.26px;top:332.59px;font-size:11px;line-height:11px;color:#000;transform-origin:0 0;">0,00</span>
<span class="t" style="left:1429.30px;top:332.59px;font-size:11px;line-height:11px;color:#000;transform-origin:0 0;">391.20</span>
<span class="t" style="left:1700.26px;top:332.59px;font-size:11px;line-height:11px;color:#000;transform-origin:0 0;">0,00</span>
<span class="t" style="left:1729.30px;top:332.59px;font-size:11px;line-height:11px;color:#000;transform-origin:0 0;">600.18</span>
<span class="t" style="left:24.84px;top:354.59px;font-size:11px;line-height:11px;color:#000;transform-origin:0 0;">5</span>
<span class="t" style="left:48.30px;top:354.59px;font-size:11px;line-height:11px;color:#000;transform:scaleX(0.9007);transform-origin:0 0;">TEMELFATURA</span>
<span class="t" style="left:148.30px;top:354.59px;font-size:11px;line-height:11px;color:#000;transform:scaleX(0.9278);transform-origin:0 0;">SATIS</span>
<span class="t" style="left:249.30px;top:354.59px;font-size:11px;line-height:11px;color:#0000ff;transform:scaleX(0.9932);transform-origin:0 0;text-decoration:underline;">TRN2024000000...</span>
<span class="t" style="left:351.30px;top:354.59px;font-size:11px;line-height:11px;color:#000;transform-origin:0 0;">1.04.2024</span>
<span class="t" style="left:451.30px;top:354.59px;font-size:11px;line-height:11px;color:#000;transform:scaleX(0.9273);transform-origin:0 0;">MULTINET KURU...</span>
<span class="t" style="left:629.30px;top:354.59px;font-size:11px;line-height:11px;color:#000;transform:scaleX(0.9146);transform-origin:0 0;">BEKLEMEDE - SA...</span>
<span class="t" style="left:788.01px;top:354.59px;font-size:11px;line-height:11px;color:#000;transform-origin:0 0;">349,23</span>
<span class="t" style="left:894.14px;top:354.59px;font-size:11px;line-height:11px;color:#000;transform-origin:0 0;">34,92</span>
<span class="t" style="left:988.01px;top:354.59px;font-size:11px;line-height:11px;color:#000;transform-origin:0 0;">384,15</span>
<span class="t" style="left:1200.26px;top:354.59px;font-size:11px;line-height:11px;color:#000;transform-origin:0 0;">0,00</span>
<span class="t" style="left:1229.30px;top:354.59px;font-size:11px;line-height:11px;color:#000;transform-origin:0 0;">600.20</span>
<span class="t" style="left:1400.26px;top:354.59px;font-size:11px;line-height:11px;color:#000;transform-origin:0 0;">0,00</span>
<span class="t" style="left:1429.30px;top:354.59px;font-size:11px;line-height:11px;color:#000;transform-origin:0 0;">391.20</span>
<span class="t" style="left:1700.26px;top:354.59px;font-size:11px;line-height:11px;color:#000;transform-origin:0 0;">0,00</span>
<span class="t" style="left:1729.30px;top:354.59px;font-size:11px;line-height:11px;color:#000;transform-origin:0 0;">600.18</span>
<span class="t" style="left:24.84px;top:376.59px;font-size:11px;line-height:11px;color:#000;transform-origin:0 0;">6</span>
<span class="t" style="left:48.30px;top:376.59px;font-size:11px;line-height:11px;color:#000;transform:scaleX(0.9007);transform-origin:0 0;">TEMELFATURA</span>
<span class="t" style="left:148.30px;top:376.59px;font-size:11px;line-height:11px;color:#000;transform:scaleX(0.9278);transform-origin:0 0;">SATIS</span>
<span class="t" style="left:249.30px;top:376.59px;font-size:11px;line-height:11px;color:#0000ff;transform:scaleX(0.9932);transform-origin:0 0;text-decoration:underline;">TRN2024000000...</span>
<span class="t" style="left:351.30px;top:376.59px;font-size:11px;line-height:11px;color:#000;transform-origin:0 0;">1.04.2024</span>
<span class="t" style="left:451.30px;top:376.59px;font-size:11px;line-height:11px;color:#000;transform:scaleX(0.9273);transform-origin:0 0;">MULTINET KURU...</span>
<span class="t" style="left:629.30px;top:376.59px;font-size:11px;line-height:11px;color:#000;transform:scaleX(0.9146);transform-origin:0 0;">BEKLEMEDE - SA...</span>
<span class="t" style="left:778.83px;top:376.59px;font-size:11px;line-height:11px;color:#000;transform-origin:0 0;">7.004,93</span>
<span class="t" style="left:894.14px;top:376.59px;font-size:11px;line-height:11px;color:#000;transform-origin:0 0;">70,05</span>
<span class="t" style="left:978.83px;top:376.59px;font-size:11px;line-height:11px;color:#000;transform-origin:0 0;">7.074,98</span>
<span class="t" style="left:1200.26px;top:376.59px;font-size:11px;line-height:11px;color:#000;transform-origin:0 0;">0,00</span>
<span class="t" style="left:1229.30px;top:376.59px;font-size:11px;line-height:11px;color:#000;transform-origin:0 0;">600.20</span>
<span class="t" style="left:1400.26px;top:376.59px;font-size:11px;line-height:11px;color:#000;transform-origin:0 0;">0,00</span>
<span class="t" style="left:1429.30px;top:376.59px;font-size:11px;line-height:11px;color:#000;transform-origin:0 0;">391.20</span>
<span class="t" style="left:1700.26px;top:376.59px;font-size:11px;line-height:11px;color:#000;transform-origin:0 0;">0,00</span>
<span class="t" style="left:1729.30px;top:376.59px;font-size:11px;line-height:11px;color:#000;transform-origin:0 0;">600.18</span>
<span class="t" style="left:24.84px;top:398.59px;font-size:11px;line-height:11px;color:#000;transform-origin:0 0;">7</span>
<span class="t" style="left:48.30px;top:398.59px;font-size:11px;line-height:11px;color:#000;transform:scaleX(0.9007);transform-origin:0 0;">TEMELFATURA</span>
<span class="t" style="left:148.30px;top:398.59px;font-size:11px;line-height:11px;color:#000;transform:scaleX(0.9278);transform-origin:0 0;">SATIS</span>
<span class="t" style="left:249.30px;top:398.59px;font-size:11px;line-height:11px;color:#0000ff;transform:scaleX(0.9932);transform-origin:0 0;text-decoration:underline;">TRN2024000000...</span>
<span class="t" style="left:351.30px;top:398.59px;font-size:11px;line-height:11px;color:#000;transform-origin:0 0;">1.04.2024</span>
<span class="t" style="left:451.30px;top:398.59px;font-size:11px;line-height:11px;color:#000;transform:scaleX(0.9273);transform-origin:0 0;">MULTINET KURU...</span>
<span class="t" style="left:629.30px;top:398.59px;font-size:11px;line-height:11px;color:#000;transform:scaleX(0.9146);transform-origin:0 0;">BEKLEMEDE - SA...</span>
<span class="t" style="left:778.83px;top:398.59px;font-size:11px;line-height:11px;color:#000;transform-origin:0 0;">4.934,00</span>
<span class="t" style="left:888.01px;top:398.59px;font-size:11px;line-height:11px;color:#000;transform-origin:0 0;">493,40</span>
<span class="t" style="left:978.83px;top:398.59px;font-size:11px;line-height:11px;color:#000;transform-origin:0 0;">5.427,40</span>
<span class="t" style="left:1200.26px;top:398.59px;font-size:11px;line-height:11px;color:#000;transform-origin:0 0;">0,00</span>
<span class="t" style="left:1229.30px;top:398.59px;font-size:11px;line-height:11px;color:#000;transform-origin:0 0;">600.20</span>
<span class="t" style="left:1400.26px;top:398.59px;font-size:11px;line-height:11px;color:#000;transform-origin:0 0;">0,00</span>
<span class="t" style="left:1429.30px;top:398.59px;font-size:11px;line-height:11px;color:#000;transform-origin:0 0;">391.20</span>
<span class="t" style="left:1700.26px;top:398.59px;font-size:11px;line-height:11px;color:#000;transform-origin:0 0;">0,00</span>
<span class="t" style="left:1729.30px;top:398.59px;font-size:11px;line-height:11px;color:#000;transform-origin:0 0;">600.18</span>
<span class="t" style="left:24.84px;top:420.59px;font-size:11px;line-height:11px;color:#000;transform-origin:0 0;">8</span>
<span class="t" style="left:48.30px;top:420.59px;font-size:11px;line-height:11px;color:#000;transform:scaleX(0.9007);transform-origin:0 0;">TEMELFATURA</span>
<span class="t" style="left:148.30px;top:420.59px;font-size:11px;line-height:11px;color:#000;transform:scaleX(0.9278);transform-origin:0 0;">SATIS</span>
<span class="t" style="left:249.30px;top:420.59px;font-size:11px;line-height:11px;color:#0000ff;transform:scaleX(0.9932);transform-origin:0 0;text-decoration:underline;">TRN2024000000...</span>
<span class="t" style="left:351.30px;top:420.59px;font-size:11px;line-height:11px;color:#000;transform-origin:0 0;">1.04.2024</span>
<span class="t" style="left:451.30px;top:420.59px;font-size:11px;line-height:11px;color:#000;transform:scaleX(0.9351);transform-origin:0 0;">İMC GROUP GID...</span>
<span class="t" style="left:629.30px;top:420.59px;font-size:11px;line-height:11px;color:#000;transform:scaleX(0.9146);transform-origin:0 0;">BEKLEMEDE - SA...</span>
<span class="t" style="left:788.01px;top:420.59px;font-size:11px;line-height:11px;color:#000;transform-origin:0 0;">990,10</span>
<span class="t" style="left:900.26px;top:420.59px;font-size:11px;line-height:11px;color:#000;transform-origin:0 0;">9,90</span>
<span class="t" style="left:978.83px;top:420.59px;font-size:11px;line-height:11px;color:#000;transform-origin:0 0;">1.000,00</span>
<span class="t" style="left:1200.26px;top:420.59px;font-size:11px;line-height:11px;color:#000;transform-origin:0 0;">0,00</span>
<span class="t" style="left:1229.30px;top:420.59px;font-size:11px;line-height:11px;color:#000;transform-origin:0 0;">600.20</span>
<span class="t" style="left:1400.26px;top:420.59px;font-size:11px;line-height:11px;color:#000;transform-origin:0 0;">0,00</span>
<span class="t" style="left:1429.30px;top:420.59px;font-size:11px;line-height:11px;color:#000;transform-origin:0 0;">391.20</span>
<span class="t" style="left:1700.26px;top:420.59px;font-size:11px;line-height:11px;color:#000;transform-origin:0 0;">0,00</span>
<span class="t" style="left:1729.30px;top:420.59px;font-size:11px;line-height:11px;color:#000;transform-origin:0 0;">600.18</span>
<span class="t" style="left:24.84px;top:442.59px;font-size:11px;line-height:11px;color:#000;transform-origin:0 0;">9</span>
<span class="t" style="left:48.30px;top:442.59px;font-size:11px;line-height:11px;color:#000;transform:scaleX(0.9007);transform-origin:0 0;">TEMELFATURA</span>
<span class="t" style="left:148.30px;top:442.59px;font-size:11px;line-height:11px;color:#000;transform:scaleX(0.9278);transform-origin:0 0;">SATIS</span>
<span class="t" style="left:249.30px;top:442.59px;font-size:11px;line-height:11px;color:#0000ff;transform:scaleX(0.9932);transform-origin:0 0;text-decoration:underline;">TRN2024000000...</span>
<span class="t" style="left:351.30px;top:442.59px;font-size:11px;line-height:11px;color:#000;transform-origin:0 0;">2.04.2024</span>
<span class="t" style="left:451.30px;top:442.59px;font-size:11px;line-height:11px;color:#000;transform:scaleX(0.9252);transform-origin:0 0;">BOZKUŞLAR GID...</span>
<span class="t" style="left:629.30px;top:442.59px;font-size:11px;line-height:11px;color:#000;transform:scaleX(0.9146);transform-origin:0 0;">BEKLEMEDE - SA...</span>
<span class="t" style="left:772.70px;top:442.59px;font-size:11px;line-height:11px;color:#000;transform-origin:0 0;">25.598,00</span>
<span class="t" style="left:879.64px;top:442.59px;font-size:11px;line-height:11px;color:#000;transform-origin:0 0;">5.119,60</span>
<span class="t" style="left:972.70px;top:442.59px;font-size:11px;line-height:11px;color:#000;transform-origin:0 0;">30.717,60</span>
<span class="t" style="left:1172.70px;top:442.59px;font-size:11px;line-height:11px;color:#000;transform-origin:0 0;">25.598,00</span>
<span class="t" style="left:1229.30px;top:442.59px;font-size:11px;line-height:11px;color:#000;transform-origin:0 0;">600.20</span>
<span class="t" style="left:1379.64px;top:442.59px;font-size:11px;line-height:11px;color:#000;transform-origin:0 0;">5.119,60</span>
<span class="t" style="left:1429.30px;top:442.59px;font-size:11px;line-height:11px;color:#000;transform-origin:0 0;">391.20</span>
<span class="t" style="left:1700.26px;top:442.59px;font-size:11px;line-height:11px;color:#000;transform-origin:0 0;">0,00</span>
<span class="t" style="left:1729.30px;top:442.59px;font-size:11px;line-height:11px;color:#000;transform-origin:0 0;">600.18</span>
<span class="t" style="left:21.77px;top:464.59px;font-size:11px;line-height:11px;color:#000;transform-origin:0 0;">10</span>
<span class="t" style="left:48.30px;top:464.59px;font-size:11px;line-height:11px;color:#000;transform:scaleX(0.9007);transform-origin:0 0;">TEMELFATURA</span>
<span class="t" style="left:148.30px;top:464.59px;font-size:11px;line-height:11px;color:#000;transform:scaleX(0.9278);transform-origin:0 0;">SATIS</span>
<span class="t" style="left:249.30px;top:464.59px;font-size:11px;line-height:11px;color:#0000ff;transform:scaleX(0.9932);transform-origin:0 0;text-decoration:underline;">TRN2024000000...</span>
<span class="t" style="left:351.30px;top:464.59px;font-size:11px;line-height:11px;color:#000;transform-origin:0 0;">2.04.2024</span>
<span class="t" style="left:451.30px;top:464.59px;font-size:11px;line-height:11px;color:#000;transform:scaleX(0.9347);transform-origin:0 0;">YILMAZ TURİZM ...</span>
<span class="t" style="left:629.30px;top:464.59px;font-size:11px;line-height:11px;color:#000;transform:scaleX(0.9146);transform-origin:0 0;">BEKLEMEDE - SA...</span>
<span class="t" style="left:788.01px;top:464.59px;font-size:11px;line-height:11px;color:#000;transform-origin:0 0;">247,52</span>
<span class="t" style="left:900.26px;top:464.59px;font-size:11px;line-height:11px;color:#000;transform-origin:0 0;">2,48</span>
<span class="t" style="left:988.01px;top:464.59px;font-size:11px;line-height:11px;color:#000;transform-origin:0 0;">250,00</span>
<span class="t" style="left:1200.26px;top:464.59px;font-size:11px;line-height:11px;color:#000;transform-origin:0 0;">0,00</span>
<span class="t" style="left:1229.30px;top:464.59px;font-size:11px;line-height:11px;color:#000;transform-origin:0 0;">600.20</span>
<span class="t" style="left:1400.26px;top:464.59px;font-size:11px;line-height:11px;color:#000;transform-origin:0 0;">0,00</span>
<span class="t" style="left:1429.30px;top:464.59px;font-size:11px;line-height:11px;color:#000;transform-origin:0 0;">391.20</span>
<span class="t" style="left:1700.26px;top:464.59px;font-size:11px;line-height:11px;color:#000;transform-origin:0 0;">0,00</span>
<span class="t" style="left:1729.30px;top:464.59px;font-size:11px;line-height:11px;color:#000;transform-origin:0 0;">600.18</span>
<span class="t" style="left:22.18px;top:486.59px;font-size:11px;line-height:11px;color:#000;transform-origin:0 0;">11</span>
<span class="t" style="left:48.30px;top:486.59px;font-size:11px;line-height:11px;color:#000;transform:scaleX(0.9007);transform-origin:0 0;">TEMELFATURA</span>
<span class="t" style="left:148.30px;top:486.59px;font-size:11px;line-height:11px;color:#000;transform:scaleX(0.9278);transform-origin:0 0;">SATIS</span>
<span class="t" style="left:249.30px;top:486.59px;font-size:11px;line-height:11px;color:#0000ff;transform:scaleX(0.9932);transform-origin:0 0;text-decoration:underline;">TRN2024000000...</span>
<span class="t" style="left:351.30px;top:486.59px;font-size:11px;line-height:11px;color:#000;transform-origin:0 0;">2.04.2024</span>
<span class="t" style="left:451.30px;top:486.59px;font-size:11px;line-height:11px;color:#000;transform:scaleX(0.9371);transform-origin:0 0;">HKS SENTETİK T...</span>
<span class="t" style="left:629.30px;top:486.59px;font-size:11px;line-height:11px;color:#000;transform:scaleX(0.9146);transform-origin:0 0;">BEKLEMEDE - SA...</span>
<span class="t" style="left:772.70px;top:486.59px;font-size:11px;line-height:11px;color:#000;transform-origin:0 0;">59.842,31</span>
<span class="t" style="left:878.83px;top:486.59px;font-size:11px;line-height:11px;color:#000;transform-origin:0 0;">3.157,69</span>
<span class="t" style="left:972.70px;top:486.59px;font-size:11px;line-height:11px;color:#000;transform-origin:0 0;">63.000,00</span>
<span class="t" style="left:1172.70px;top:486.59px;font-size:11px;line-height:11px;color:#000;transform-origin:0 0;">13.469,81</span>
<span class="t" style="left:1229.30px;top:486.59px;font-size:11px;line-height:11px;color:#000;transform-origin:0 0;">600.20</span>
<span class="t" style="left:1378.83px;top:486.59px;font-size:11px;line-height:11px;color:#000;transform-origin:0 0;">2.693,96</span>
<span class="t" style="left:1429.30px;top:486.59px;font-size:11px;line-height:11px;color:#000;transform-origin:0 0;">391.20</span>
<span class="t" style="left:1700.26px;top:486.59px;font-size:11px;line-height:11px;color:#000;transform-origin:0 0;">0,00</span>
<span class="t" style="left:1729.30px;top:486.59px;font-size:11px;line-height:11px;color:#000;transform-origin:0 0;">600.18</span>
<span class="t" style="left:21.77px;top:508.59px;font-size:11px;line-height:11px;color:#000;transform-origin:0 0;">12</span>
<span class="t" style="left:48.30px;top:508.59px;font-size:11px;line-height:11px;color:#000;transform:scaleX(0.9007);transform-origin:0 0;">TEMELFATURA</span>
<span class="t" style="left:148.30px;top:508.59px;font-size:11px;line-height:11px;color:#000;transform:scaleX(0.9278);transform-origin:0 0;">SATIS</span>
<span class="t" style="left:249.30px;top:508.59px;font-size:11px;line-height:11px;color:#0000ff;transform:scaleX(0.9932);transform-origin:0 0;text-decoration:underline;">TRN2024000000...</span>
<span class="t" style="left:351.30px;top:508.59px;font-size:11px;line-height:11px;color:#000;transform-origin:0 0;">3.04.2024</span>
<span class="t" style="left:451.30px;top:508.59px;font-size:11px;line-height:11px;color:#000;transform:scaleX(0.9406);transform-origin:0 0;">BİGA GÜÇLÜ GI...</span>
<span class="t" style="left:629.30px;top:508.59px;font-size:11px;line-height:11px;color:#000;transform:scaleX(0.9146);transform-origin:0 0;">BEKLEMEDE - SA...</span>
<span class="t" style="left:766.58px;top:508.59px;font-size:11px;line-height:11px;color:#000;transform-origin:0 0;">126.668,24</span>
<span class="t" style="left:878.83px;top:508.59px;font-size:11px;line-height:11px;color:#000;transform-origin:0 0;">1.266,68</span>
<span class="t" style="left:966.58px;top:508.59px;font-size:11px;line-height:11px;color:#000;transform-origin:0 0;">127.934,92</span>
<span class="t" style="left:1200.26px;top:508.59px;font-size:11px;line-height:11px;color:#000;transform-origin:0 0;">0,00</span>
<span class="t" style="left:1229.30px;top:508.59px;font-size:11px;line-height:11px;color:#000;transform-origin:0 0;">600.20</span>
<span class="t" style="left:1400.26px;top:508.59px;font-size:11px;line-height:11px;color:#000;transform-origin:0 0;">0,00</span>
<span class="t" style="left:1429.30px;top:508.59px;font-size:11px;line-height:11px;color:#000;transform-origin:0 0;">391.20</span>
<span class="t" style="left:1700.26px;top:508.59px;font-size:11px;line-height:11px;color:#000;transform-origin:0 0;">0,00</span>
<span class="t" style="left:1729.30px;top:508.59px;font-size:11px;line-height:11px;color:#000;transform-origin:0 0;">600.18</span>
<span class="t" style="left:21.77px;top:530.59px;font-size:11px;line-height:11px;color:#000;transform-origin:0 0;">13</span>
<span class="t" style="left:48.30px;top:530.59px;font-size:11px;line-height:11px;color:#000;transform:scaleX(0.9007);transform-origin:0 0;">TEMELFATURA</span>
<span class="t" style="left:148.30px;top:530.59px;font-size:11px;line-height:11px;color:#000;transform:scaleX(0.9278);transform-origin:0 0;">SATIS</span>
<span class="t" style="left:249.30px;top:530.59px;font-size:11px;line-height:11px;color:#0000ff;transform:scaleX(0.9932);transform-origin:0 0;text-decoration:underline;">TRN2024000000...</span>
<span class="t" style="left:351.30px;top:530.59px;font-size:11px;line-height:11px;color:#000;transform-origin:0 0;">4.04.2024</span>
<span class="t" style="left:451.30px;top:530.59px;font-size:11px;line-height:11px;color:#000;transform:scaleX(0.9273);transform-origin:0 0;">MULTINET KURU...</span>
<span class="t" style="left:629.30px;top:530.59px;font-size:11px;line-height:11px;color:#000;transform:scaleX(0.9260);transform-origin:0 0;">ONAYLANDI - S...</span>
<span class="t" style="left:794.14px;top:530.59px;font-size:11px;line-height:11px;color:#000;transform-origin:0 0;">26,73</span>
<span class="t" style="left:900.26px;top:530.59px;font-size:11px;line-height:11px;color:#000;transform-origin:0 0;">0,27</span>
<span class="t" style="left:994.14px;top:530.59px;font-size:11px;line-height:11px;color:#000;transform-origin:0 0;">27,00</span>
<span class="t" style="left:1200.26px;top:530.59px;font-size:11px;line-height:11px;color:#000;transform-origin:0 0;">0,00</span>
<span class="t" style="left:1229.30px;top:530.59px;font-size:11px;line-height:11px;color:#000;transform-origin:0 0;">600.20</span>
<span class="t" style="left:1400.26px;top:530.59px;font-size:11px;line-height:11px;color:#000;transform-origin:0 0;">0,00</span>
<span class="t" style="left:1429.30px;top:530.59px;font-size:11px;line-height:11px;color:#000;transform-origin:0 0;">391.20</span>
<span class="t" style="left:1700.26px;top:530.59px;font-size:11px;line-height:11px;color:#000;transform-origin:0 0;">0,00</span>
<span class="t" style="left:1729.30px;top:530.59px;font-size:11px;line-height:11px;color:#000;transform-origin:0 0;">600.18</span>
<span class="t" style="left:21.77px;top:552.59px;font-size:11px;line-height:11px;color:#000;transform-origin:0 0;">14</span>
<span class="t" style="left:48.30px;top:552.59px;font-size:11px;line-height:11px;color:#000;transform:scaleX(0.9007);transform-origin:0 0;">TEMELFATURA</span>
<span class="t" style="left:148.30px;top:552.59px;font-size:11px;line-height:11px;color:#000;transform:scaleX(0.9335);transform-origin:0 0;">IADE</span>
<span class="t" style="left:249.30px;top:552.59px;font-size:11px;line-height:11px;color:#0000ff;transform:scaleX(0.9932);transform-origin:0 0;text-decoration:underline;">TRN2024000000...</span>
<span class="t" style="left:351.30px;top:552.59px;font-size:11px;line-height:11px;color:#000;transform-origin:0 0;">4.04.2024</span>
<span class="t" style="left:451.30px;top:552.59px;font-size:11px;line-height:11px;color:#000;transform:scaleX(0.9331);transform-origin:0 0;">KÖSELECİLER GI...</span>
<span class="t" style="left:629.30px;top:552.59px;font-size:11px;line-height:11px;color:#000;transform:scaleX(0.9240);transform-origin:0 0;">BEKLEMEDE - IA...</span>
<span class="t" style="left:778.83px;top:552.59px;font-size:11px;line-height:11px;color:#000;transform-origin:0 0;">2.231,46</span>
<span class="t" style="left:894.14px;top:552.59px;font-size:11px;line-height:11px;color:#000;transform-origin:0 0;">22,32</span>
<span class="t" style="left:978.83px;top:552.59px;font-size:11px;line-height:11px;color:#000;transform-origin:0 0;">2.253,78</span>
<span class="t" style="left:1200.26px;top:552.59px;font-size:11px;line-height:11px;color:#000;transform-origin:0 0;">0,00</span>
<span class="t" style="left:1229.30px;top:552.59px;font-size:11px;line-height:11px;color:#000;transform-origin:0 0;">153.20</span>
<span class="t" style="left:1400.26px;top:552.59px;font-size:11px;line-height:11px;color:#000;transform-origin:0 0;">0,00</span>
<span class="t" style="left:1429.30px;top:552.59px;font-size:11px;line-height:11px;color:#000;transform-origin:0 0;">391.20</span>
<span class="t" style="left:1700.26px;top:552.59px;font-size:11px;line-height:11px;color:#000;transform-origin:0 0;">0,00</span>
<span class="t" style="left:1729.30px;top:552.59px;font-size:11px;line-height:11px;color:#000;transform-origin:0 0;">153.18</span>
<span class="t" style="left:21.77px;top:574.59px;font-size:11px;line-height:11px;color:#000;transform-origin:0 0;">15</span>
<span class="t" style="left:48.30px;top:574.59px;font-size:11px;line-height:11px;color:#000;transform:scaleX(0.9007);transform-origin:0 0;">TEMELFATURA</span>
<span class="t" style="left:148.30px;top:574.59px;font-size:11px;line-height:11px;color:#000;transform:scaleX(0.9335);transform-origin:0 0;">IADE</span>
<span class="t" style="left:249.30px;top:574.59px;font-size:11px;line-height:11px;color:#0000ff;transform:scaleX(0.9932);transform-origin:0 0;text-decoration:underline;">TRN2024000000...</span>
<span class="t" style="left:351.30px;top:574.59px;font-size:11px;line-height:11px;color:#000;transform-origin:0 0;">5.04.2024</span>
<span class="t" style="left:451.30px;top:574.59px;font-size:11px;line-height:11px;color:#000;transform:scaleX(0.9331);transform-origin:0 0;">KÖSELECİLER GI...</span>
<span class="t" style="left:629.30px;top:574.59px;font-size:11px;line-height:11px;color:#000;transform:scaleX(0.9240);transform-origin:0 0;">BEKLEMEDE - IA...</span>
<span class="t" style="left:788.01px;top:574.59px;font-size:11px;line-height:11px;color:#000;transform-origin:0 0;">299,88</span>
<span class="t" style="left:900.26px;top:574.59px;font-size:11px;line-height:11px;color:#000;transform-origin:0 0;">3,00</span>
<span class="t" style="left:988.01px;top:574.59px;font-size:11px;line-height:11px;color:#000;transform-origin:0 0;">302,88</span>
<span class="t" style="left:1200.26px;top:574.59px;font-size:11px;line-height:11px;color:#000;transform-origin:0 0;">0,00</span>
<span class="t" style="left:1229.30px;top:574.59px;font-size:11px;line-height:11px;color:#000;transform-origin:0 0;">153.20</span>
<span class="t" style="left:1400.26px;top:574.59px;font-size:11px;line-height:11px;color:#000;transform-origin:0 0;">0,00</span>
<span class="t" style="left:1429.30px;top:574.59px;font-size:11px;line-height:11px;color:#000;transform-origin:0 0;">391.20</span>
<span class="t" style="left:1700.26px;top:574.59px;font-size:11px;line-height:11px;color:#000;transform-origin:0 0;">0,00</span>
<span class="t" style="left:1729.30px;top:574.59px;font-size:11px;line-height:11px;color:#000;transform-origin:0 0;">153.18</span>
<span class="t" style="left:21.77px;top:596.59px;font-size:11px;line-height:11px;color:#000;transform-origin:0 0;">16</span>
<span class="t" style="left:48.30px;top:596.59px;font-size:11px;line-height:11px;color:#000;transform:scaleX(0.9007);transform-origin:0 0;">TEMELFATURA</span>
<span class="t" style="left:148.30px;top:596.59px;font-size:11px;line-height:11px;color:#000;transform:scaleX(0.9278);transform-origin:0 0;">SATIS</span>
<span class="t" style="left:249.30px;top:596.59px;font-size:11px;line-height:11px;color:#0000ff;transform:scaleX(0.9932);transform-origin:0 0;text-decoration:underline;">TRN2024000000...</span>
<span class="t" style="left:351.30px;top:596.59px;font-size:11px;line-height:11px;color:#000;transform-origin:0 0;">8.04.2024</span>
<span class="t" style="left:451.30px;top:596.59px;font-size:11px;line-height:11px;color:#000;transform:scaleX(0.8987);transform-origin:0 0;">ÖZCAN SAVUR</span>
<span class="t" style="left:629.30px;top:596.59px;font-size:11px;line-height:11px;color:#000;transform:scaleX(0.9146);transform-origin:0 0;">BEKLEMEDE - SA...</span>
<span class="t" style="left:772.70px;top:596.59px;font-size:11px;line-height:11px;color:#000;transform-origin:0 0;">19.801,98</span>
<span class="t" style="left:888.01px;top:596.59px;font-size:11px;line-height:11px;color:#000;transform-origin:0 0;">198,02</span>
<span class="t" style="left:972.70px;top:596.59px;font-size:11px;line-height:11px;color:#000;transform-origin:0 0;">20.000,00</span>
<span class="t" style="left:1200.26px;top:596.59px;font-size:11px;line-height:11px;color:#000;transform-origin:0 0;">0,00</span>
<span class="t" style="left:1229.30px;top:596.59px;font-size:11px;line-height:11px;color:#000;transform-origin:0 0;">600.20</span>
<span class="t" style="left:1400.26px;top:596.59px;font-size:11px;line-height:11px;color:#000;transform-origin:0 0;">0,00</span>
<span class="t" style="left:1429.30px;top:596.59px;font-size:11px;line-height:11px;color:#000;transform-origin:0 0;">391.20</span>
<span class="t" style="left:1700.26px;top:596.59px;font-size:11px;line-height:11px;color:#000;transform-origin:0 0;">0,00</span>
<span class="t" style="left:1729.30px;top:596.59px;font-size:11px;line-height:11px;color:#000;transform-origin:0 0;">600.18</span>
<span class="t" style="left:21.77px;top:618.59px;font-size:11px;line-height:11px;color:#000;transform-origin:0 0;">17</span>
<span class="t" style="left:48.30px;top:618.59px;font-size:11px;line-height:11px;color:#000;transform:scaleX(0.9221);transform-origin:0 0;">TICARIFATURA</span>
<span class="t" style="left:148.30px;top:618.59px;font-size:11px;line-height:11px;color:#000;transform:scaleX(0.9278);transform-origin:0 0;">SATIS</span>
<span class="t" style="left:249.30px;top:618.59px;font-size:11px;line-height:11px;color:#0000ff;transform:scaleX(0.9932);transform-origin:0 0;text-decoration:underline;">TRN2024000000...</span>
<span class="t" style="left:351.30px;top:618.59px;font-size:11px;line-height:11px;color:#000;transform-origin:0 0;">8.04.2024</span>
<span class="t" style="left:451.30px;top:618.59px;font-size:11px;line-height:11px;color:#000;transform:scaleX(0.9270);transform-origin:0 0;">ALTINORDU MA...</span>
<span class="t" style="left:629.30px;top:618.59px;font-size:11px;line-height:11px;color:#000;transform:scaleX(0.9260);transform-origin:0 0;">ONAYLANDI - S...</span>
<span class="t" style="left:772.70px;top:618.59px;font-size:11px;line-height:11px;color:#000;transform-origin:0 0;">19.189,90</span>
<span class="t" style="left:878.83px;top:618.59px;font-size:11px;line-height:11px;color:#000;transform-origin:0 0;">3.419,43</span>
<span class="t" style="left:972.70px;top:618.59px;font-size:11px;line-height:11px;color:#000;transform-origin:0 0;">22.609,33</span>
<span class="t" style="left:1172.70px;top:618.59px;font-size:11px;line-height:11px;color:#000;transform-origin:0 0;">16.987,00</span>
<span class="t" style="left:1229.30px;top:618.59px;font-size:11px;line-height:11px;color:#000;transform-origin:0 0;">600.20</span>
<span class="t" style="left:1378.83px;top:618.59px;font-size:11px;line-height:11px;color:#000;transform-origin:0 0;">3.397,40</span>
<span class="t" style="left:1429.30px;top:618.59px;font-size:11px;line-height:11px;color:#000;transform-origin:0 0;">391.20</span>
<span class="t" style="left:1700.26px;top:618.59px;font-size:11px;line-height:11px;color:#000;transform-origin:0 0;">0,00</span>
<span class="t" style="left:1729.30px;top:618.59px;font-size:11px;line-height:11px;color:#000;transform-origin:0 0;">600.18</span>
<span class="t" style="left:21.77px;top:640.59px;font-size:11px;line-height:11px;color:#000;transform-origin:0 0;">18</span>
<span class="t" style="left:48.30px;top:640.59px;font-size:11px;line-height:11px;color:#000;transform:scaleX(0.9007);transform-origin:0 0;">TEMELFATURA</span>
<span class="t" style="left:148.30px;top:640.59px;font-size:11px;line-height:11px;color:#000;transform:scaleX(0.9278);transform-origin:0 0;">SATIS</span>
<span class="t" style="left:249.30px;top:640.59px;font-size:11px;line-height:11px;color:#0000ff;transform:scaleX(0.9932);transform-origin:0 0;text-decoration:underline;">TRN2024000000...</span>
<span class="t" style="left:351.30px;top:640.59px;font-size:11px;line-height:11px;color:#000;transform-origin:0 0;">8.04.2024</span>
<span class="t" style="left:451.30px;top:640.59px;font-size:11px;line-height:11px;color:#000;transform:scaleX(0.9354);transform-origin:0 0;">SODEXO AVANT...</span>
<span class="t" style="left:629.30px;top:640.59px;font-size:11px;line-height:11px;color:#000;transform:scaleX(0.9146);transform-origin:0 0;">BEKLEMEDE - SA...</span>
<span class="t" style="left:772.70px;top:640.59px;font-size:11px;line-height:11px;color:#000;transform-origin:0 0;">57.954,61</span>
<span class="t" style="left:878.83px;top:640.59px;font-size:11px;line-height:11px;color:#000;transform-origin:0 0;">5.795,46</span>
<span class="t" style="left:972.70px;top:640.59px;font-size:11px;line-height:11px;color:#000;transform-origin:0 0;">63.750,07</span>
<span class="t" style="left:1200.26px;top:640.59px;font-size:11px;line-height:11px;color:#000;transform-origin:0 0;">0,00</span>
<span class="t" style="left:1229.30px;top:640.59px;font-size:11px;line-height:11px;color:#000;transform-origin:0 0;">600.20</span>
<span class="t" style="left:1400.26px;top:640.59px;font-size:11px;line-height:11px;color:#000;transform-origin:0 0;">0,00</span>
<span class="t" style="left:1429.30px;top:640.59px;font-size:11px;line-height:11px;color:#000;transform-origin:0 0;">391.20</span>
<span class="t" style="left:1700.26px;top:640.59px;font-size:11px;line-height:11px;color:#000;transform-origin:0 0;">0,00</span>
<span class="t" style="left:1729.30px;top:640.59px;font-size:11px;line-height:11px;color:#000;transform-origin:0 0;">600.18</span>
<span class="t" style="left:21.77px;top:662.59px;font-size:11px;line-height:11px;color:#000;transform-origin:0 0;">19</span>
<span class="t" style="left:48.30px;top:662.59px;font-size:11px;line-height:11px;color:#000;transform:scaleX(0.9007);transform-origin:0 0;">TEMELFATURA</span>
<span class="t" style="left:148.30px;top:662.59px;font-size:11px;line-height:11px;color:#000;transform:scaleX(0.9278);transform-origin:0 0;">SATIS</span>
<span class="t" style="left:249.30px;top:662.59px;font-size:11px;line-height:11px;color:#0000ff;transform:scaleX(0.9932);transform-origin:0 0;text-decoration:underline;">TRN2024000000...</span>
<span class="t" style="left:351.30px;top:662.59px;font-size:11px;line-height:11px;color:#000;transform-origin:0 0;">8.04.2024</span>
<span class="t" style="left:451.30px;top:662.59px;font-size:11px;line-height:11px;color:#000;transform:scaleX(0.9354);transform-origin:0 0;">SODEXO AVANT...</span>
<span class="t" style="left:629.30px;top:662.59px;font-size:11px;line-height:11px;color:#000;transform:scaleX(0.9146);transform-origin:0 0;">BEKLEMEDE - SA...</span>
<span class="t" style="left:778.83px;top:662.59px;font-size:11px;line-height:11px;color:#000;transform-origin:0 0;">8.041,32</span>
<span class="t" style="left:894.14px;top:662.59px;font-size:11px;line-height:11px;color:#000;transform-origin:0 0;">80,41</span>
<span class="t" style="left:978.83px;top:662.59px;font-size:11px;line-height:11px;color:#000;transform-origin:0 0;">8.121,73</span>
<span class="t" style="left:1200.26px;top:662.59px;font-size:11px;line-height:11px;color:#000;transform-origin:0 0;">0,00</span>
<span class="t" style="left:1229.30px;top:662.59px;font-size:11px;line-height:11px;color:#000;transform-origin:0 0;">600.20</span>
<span class="t" style="left:1400.26px;top:662.59px;font-size:11px;line-height:11px;color:#000;transform-origin:0 0;">0,00</span>
<span class="t" style="left:1429.30px;top:662.59px;font-size:11px;line-height:11px;color:#000;transform-origin:0 0;">391.20</span>
<span class="t" style="left:1700.26px;top:662.59px;font-size:11px;line-height:11px;color:#000;transform-origin:0 0;">0,00</span>
<span class="t" style="left:1729.30px;top:662.59px;font-size:11px;line-height:11px;color:#000;transform-origin:0 0;">600.18</span>
<span class="t" style="left:21.77px;top:684.59px;font-size:11px;line-height:11px;color:#000;transform-origin:0 0;">20</span>
<span class="t" style="left:48.30px;top:684.59px;font-size:11px;line-height:11px;color:#000;transform:scaleX(0.9108);transform-origin:0 0;">EARSIVFATURA</span>
<span class="t" style="left:148.30px;top:684.59px;font-size:11px;line-height:11px;color:#000;transform:scaleX(0.9278);transform-origin:0 0;">SATIS</span>
<span class="t" style="left:249.30px;top:684.59px;font-size:11px;line-height:11px;color:#0000ff;transform-origin:0 0;text-decoration:underline;">TRY2024000000...</span>
<span class="t" style="left:351.30px;top:684.59px;font-size:11px;line-height:11px;color:#000;transform-origin:0 0;">8.04.2024</span>
<span class="t" style="left:451.30px;top:684.59px;font-size:11px;line-height:11px;color:#000;transform:scaleX(0.9268);transform-origin:0 0;">NİDA ÖZDEMİR</span>
<span class="t" style="left:629.30px;top:684.59px;font-size:11px;line-height:11px;color:#000;transform:scaleX(0.9260);transform-origin:0 0;">ONAYLANDI - S...</span>
<span class="t" style="left:778.83px;top:684.59px;font-size:11px;line-height:11px;color:#000;transform-origin:0 0;">2.277,22</span>
<span class="t" style="left:894.14px;top:684.59px;font-size:11px;line-height:11px;color:#000;transform-origin:0 0;">22,78</span>
<span class="t" style="left:978.83px;top:684.59px;font-size:11px;line-height:11px;color:#000;transform-origin:0 0;">2.300,00</span>
<span class="t" style="left:1200.26px;top:684.59px;font-size:11px;line-height:11px;color:#000;transform-origin:0 0;">0,00</span>
<span class="t" style="left:1229.30px;top:684.59px;font-size:11px;line-height:11px;color:#000;transform-origin:0 0;">600.20</span>
<span class="t" style="left:1400.26px;top:684.59px;font-size:11px;line-height:11px;color:#000;transform-origin:0 0;">0,00</span>
<span class="t" style="left:1429.30px;top:684.59px;font-size:11px;line-height:11px;color:#000;transform-origin:0 0;">391.20</span>
<span class="t" style="left:1700.26px;top:684.59px;font-size:11px;line-height:11px;color:#000;transform-origin:0 0;">0,00</span>
<span class="t" style="left:1729.30px;top:684.59px;font-size:11px;line-height:11px;color:#000;transform-origin:0 0;">600.18</span>
<span class="t" style="left:21.77px;top:706.59px;font-size:11px;line-height:11px;color:#000;transform-origin:0 0;">21</span>
<span class="t" style="left:48.30px;top:706.59px;font-size:11px;line-height:11px;color:#000;transform:scaleX(0.9007);transform-origin:0 0;">TEMELFATURA</span>
<span class="t" style="left:148.30px;top:706.59px;font-size:11px;line-height:11px;color:#000;transform:scaleX(0.9278);transform-origin:0 0;">SATIS</span>
<span class="t" style="left:249.30px;top:706.59px;font-size:11px;line-height:11px;color:#0000ff;transform:scaleX(0.9932);transform-origin:0 0;text-decoration:underline;">TRN2024000000...</span>
<span class="t" style="left:351.30px;top:706.59px;font-size:11px;line-height:11px;color:#000;transform-origin:0 0;">15.04.2024</span>
<span class="t" style="left:451.30px;top:706.59px;font-size:11px;line-height:11px;color:#000;transform:scaleX(0.9406);transform-origin:0 0;">BİGA GÜÇLÜ GI...</span>
<span class="t" style="left:629.30px;top:706.59px;font-size:11px;line-height:11px;color:#000;transform:scaleX(0.9146);transform-origin:0 0;">BEKLEMEDE - SA...</span>
<span class="t" style="left:766.58px;top:706.59px;font-size:11px;line-height:11px;color:#000;transform-origin:0 0;">174.977,90</span>
<span class="t" style="left:878.83px;top:706.59px;font-size:11px;line-height:11px;color:#000;transform-origin:0 0;">1.749,79</span>
<span class="t" style="left:966.58px;top:706.59px;font-size:11px;line-height:11px;color:#000;transform-origin:0 0;">176.727,69</span>
<span class="t" style="left:1200.26px;top:706.59px;font-size:11px;line-height:11px;color:#000;transform-origin:0 0;">0,00</span>
<span class="t" style="left:1229.30px;top:706.59px;font-size:11px;line-height:11px;color:#000;transform-origin:0 0;">600.20</span>
<span class="t" style="left:1400.26px;top:706.59px;font-size:11px;line-height:11px;color:#000;transform-origin:0 0;">0,00</span>
<span class="t" style="left:1429.30px;top:706.59px;font-size:11px;line-height:11px;color:#000;transform-origin:0 0;">391.20</span>
<span class="t" style="left:1700.26px;top:706.59px;font-size:11px;line-height:11px;color:#000;transform-origin:0 0;">0,00</span>
<span class="t" style="left:1729.30px;top:706.59px;font-size:11px;line-height:11px;color:#000;transform-origin:0 0;">600.18</span>
<span class="t" style="left:21.77px;top:728.59px;font-size:11px;line-height:11px;color:#000;transform-origin:0 0;">22</span>
<span class="t" style="left:48.30px;top:728.59px;font-size:11px;line-height:11px;color:#000;transform:scaleX(0.9007);transform-origin:0 0;">TEMELFATURA</span>
<span class="t" style="left:148.30px;top:728.59px;font-size:11px;line-height:11px;color:#000;transform:scaleX(0.9278);transform-origin:0 0;">SATIS</span>
<span class="t" style="left:249.30px;top:728.59px;font-size:11px;line-height:11px;color:#0000ff;transform:scaleX(0.9932);transform-origin:0 0;text-decoration:underline;">TRN2024000000...</span>
<span class="t" style="left:351.30px;top:728.59px;font-size:11px;line-height:11px;color:#000;transform-origin:0 0;">15.04.2024</span>
<span class="t" style="left:451.30px;top:728.59px;font-size:11px;line-height:11px;color:#000;transform:scaleX(0.9360);transform-origin:0 0;">ERDAL TİCARET...</span>
<span class="t" style="left:629.30px;top:728.59px;font-size:11px;line-height:11px;color:#000;transform:scaleX(0.9146);transform-origin:0 0;">BEKLEMEDE - SA...</span>
<span class="t" style="left:788.01px;top:728.59px;font-size:11px;line-height:11px;color:#000;transform-origin:0 0;">125,99</span>
<span class="t" style="left:900.26px;top:728.59px;font-size:11px;line-height:11px;color:#000;transform-origin:0 0;">3,69</span>
<span class="t" style="left:988.01px;top:728.59px;font-size:11px;line-height:11px;color:#000;transform-origin:0 0;">129,68</span>
<span class="t" style="left:1200.26px;top:728.59px;font-size:11px;line-height:11px;color:#000;transform-origin:0 0;">0,00</span>
<span class="t" style="left:1229.30px;top:728.59px;font-size:11px;line-height:11px;color:#000;transform-origin:0 0;">600.20</span>
<span class="t" style="left:1400.26px;top:728.59px;font-size:11px;line-height:11px;color:#000;transform-origin:0 0;">0,00</span>
<span class="t" style="left:1429.30px;top:728.59px;font-size:11px;line-height:11px;color:#000;transform-origin:0 0;">391.20</span>
<span class="t" style="left:1700.26px;top:728.59px;font-size:11px;line-height:11px;color:#000;transform-origin:0 0;">0,00</span>
<span class="t" style="left:1729.30px;top:728.59px;font-size:11px;line-height:11px;color:#000;transform-origin:0 0;">600.18</span>
<span class="t" style="left:21.77px;top:750.59px;font-size:11px;line-height:11px;color:#000;transform-origin:0 0;">23</span>
<span class="t" style="left:48.30px;top:750.59px;font-size:11px;line-height:11px;color:#000;transform:scaleX(0.9007);transform-origin:0 0;">TEMELFATURA</span>
<span class="t" style="left:148.30px;top:750.59px;font-size:11px;line-height:11px;color:#000;transform:scaleX(0.9335);transform-origin:0 0;">IADE</span>
<span class="t" style="left:249.30px;top:750.59px;font-size:11px;line-height:11px;color:#0000ff;transform:scaleX(0.9932);transform-origin:0 0;text-decoration:underline;">TRN2024000000...</span>
<span class="t" style="left:351.30px;top:750.59px;font-size:11px;line-height:11px;color:#000;transform-origin:0 0;">15.04.2024</span>
<span class="t" style="left:451.30px;top:750.59px;font-size:11px;line-height:11px;color:#000;transform:scaleX(0.9312);transform-origin:0 0;">ECEGIDA PAZAR...</span>
<span class="t" style="left:629.30px;top:750.59px;font-size:11px;line-height:11px;color:#000;transform:scaleX(0.9240);transform-origin:0 0;">BEKLEMEDE - IA...</span>
<span class="t" style="left:788.83px;top:750.59px;font-size:11px;line-height:11px;color:#000;transform-origin:0 0;">209,11</span>
<span class="t" style="left:900.26px;top:750.59px;font-size:11px;line-height:11px;color:#000;transform-origin:0 0;">2,09</span>
<span class="t" style="left:988.83px;top:750.59px;font-size:11px;line-height:11px;color:#000;transform-origin:0 0;">211,20</span>
<span class="t" style="left:1200.26px;top:750.59px;font-size:11px;line-height:11px;color:#000;transform-origin:0 0;">0,00</span>
<span class="t" style="left:1229.30px;top:750.59px;font-size:11px;line-height:11px;color:#000;transform-origin:0 0;">153.20</span>
<span class="t" style="left:1400.26px;top:750.59px;font-size:11px;line-height:11px;color:#000;transform-origin:0 0;">0,00</span>
<span class="t" style="left:1429.30px;top:750.59px;font-size:11px;line-height:11px;color:#000;transform-origin:0 0;">391.20</span>
<span class="t" style="left:1700.26px;top:750.59px;font-size:11px;line-height:11px;color:#000;transform-origin:0 0;">0,00</span>
<span class="t" style="left:1729.30px;top:750.59px;font-size:11px;line-height:11px;color:#000;transform-origin:0 0;">153.18</span>
<span class="t" style="left:21.77px;top:772.59px;font-size:11px;line-height:11px;color:#000;transform-origin:0 0;">24</span>
<span class="t" style="left:48.30px;top:772.59px;font-size:11px;line-height:11px;color:#000;transform:scaleX(0.9007);transform-origin:0 0;">TEMELFATURA</span>
<span class="t" style="left:148.30px;top:772.59px;font-size:11px;line-height:11px;color:#000;transform:scaleX(0.9278);transform-origin:0 0;">SATIS</span>
<span class="t" style="left:249.30px;top:772.59px;font-size:11px;line-height:11px;color:#0000ff;transform:scaleX(0.9932);transform-origin:0 0;text-decoration:underline;">TRN2024000000...</span>
<span class="t" style="left:351.30px;top:772.59px;font-size:11px;line-height:11px;color:#000;transform-origin:0 0;">15.04.2024</span>
<span class="t" style="left:451.30px;top:772.59px;font-size:11px;line-height:11px;color:#000;transform:scaleX(0.9323);transform-origin:0 0;">ARAS KARGO Y...</span>
<span class="t" style="left:629.30px;top:772.59px;font-size:11px;line-height:11px;color:#000;transform:scaleX(0.9146);transform-origin:0 0;">BEKLEMEDE - SA...</span>
<span class="t" style="left:788.01px;top:772.59px;font-size:11px;line-height:11px;color:#000;transform-origin:0 0;">445,00</span>
<span class="t" style="left:894.14px;top:772.59px;font-size:11px;line-height:11px;color:#000;transform-origin:0 0;">89,00</span>
<span class="t" style="left:988.01px;top:772.59px;font-size:11px;line-height:11px;color:#000;transform-origin:0 0;">534,00</span>
<span class="t" style="left:1188.01px;top:772.59px;font-size:11px;line-height:11px;color:#000;transform-origin:0 0;">445,00</span>
<span class="t" style="left:1229.30px;top:772.59px;font-size:11px;line-height:11px;color:#000;transform-origin:0 0;">600.20</span>
<span class="t" style="left:1394.14px;top:772.59px;font-size:11px;line-height:11px;color:#000;transform-origin:0 0;">89,00</span>
<span class="t" style="left:1429.30px;top:772.59px;font-size:11px;line-height:11px;color:#000;transform-origin:0 0;">391.20</span>
<span class="t" style="left:1700.26px;top:772.59px;font-size:11px;line-height:11px;color:#000;transform-origin:0 0;">0,00</span>
<span class="t" style="left:1729.30px;top:772.59px;font-size:11px;line-height:11px;color:#000;transform-origin:0 0;">600.18</span>
<span class="t" style="left:21.77px;top:794.59px;font-size:11px;line-height:11px;color:#000;transform-origin:0 0;">25</span>
<span class="t" style="left:48.30px;top:794.59px;font-size:11px;line-height:11px;color:#000;transform:scaleX(0.9108);transform-origin:0 0;">EARSIVFATURA</span>
<span class="t" style="left:148.30px;top:794.59px;font-size:11px;line-height:11px;color:#000;transform:scaleX(0.9278);transform-origin:0 0;">SATIS</span>
<span class="t" style="left:249.30px;top:794.59px;font-size:11px;line-height:11px;color:#0000ff;transform-origin:0 0;text-decoration:underline;">TRY2024000000...</span>
<span class="t" style="left:351.30px;top:794.59px;font-size:11px;line-height:11px;color:#000;transform-origin:0 0;">15.04.2024</span>
<span class="t" style="left:451.30px;top:794.59px;font-size:11px;line-height:11px;color:#000;transform:scaleX(0.9242);transform-origin:0 0;">ONUR HAYRİ US...</span>
<span class="t" style="left:629.30px;top:794.59px;font-size:11px;line-height:11px;color:#000;transform:scaleX(0.9260);transform-origin:0 0;">ONAYLANDI - S...</span>
<span class="t" style="left:788.01px;top:794.59px;font-size:11px;line-height:11px;color:#000;transform-origin:0 0;">831,40</span>
<span class="t" style="left:900.26px;top:794.59px;font-size:11px;line-height:11px;color:#000;transform-origin:0 0;">8,31</span>
<span class="t" style="left:988.01px;top:794.59px;font-size:11px;line-height:11px;color:#000;transform-origin:0 0;">839,71</span>
<span class="t" style="left:1200.26px;top:794.59px;font-size:11px;line-height:11px;color:#000;transform-origin:0 0;">0,00</span>
<span class="t" style="left:1229.30px;top:794.59px;font-size:11px;line-height:11px;color:#000;transform-origin:0 0;">600.20</span>
<span class="t" style="left:1400.26px;top:794.59px;font-size:11px;line-height:11px;color:#000;transform-origin:0 0;">0,00</span>
<span class="t" style="left:1429.30px;top:794.59px;font-size:11px;line-height:11px;color:#000;transform-origin:0 0;">391.20</span>
<span class="t" style="left:1700.26px;top:794.59px;font-size:11px;line-height:11px;color:#000;transform-origin:0 0;">0,00</span>
<span class="t" style="left:1729.30px;top:794.59px;font-size:11px;line-height:11px;color:#000;transform-origin:0 0;">600.18</span>
<span class="t" style="left:21.77px;top:816.59px;font-size:11px;line-height:11px;color:#000;transform-origin:0 0;">26</span>
<span class="t" style="left:48.30px;top:816.59px;font-size:11px;line-height:11px;color:#000;transform:scaleX(0.9108);transform-origin:0 0;">EARSIVFATURA</span>
<span class="t" style="left:148.30px;top:816.59px;font-size:11px;line-height:11px;color:#000;transform:scaleX(0.9278);transform-origin:0 0;">SATIS</span>
<span class="t" style="left:249.30px;top:816.59px;font-size:11px;line-height:11px;color:#0000ff;transform-origin:0 0;text-decoration:underline;">TRY2024000000...</span>
<span class="t" style="left:351.30px;top:816.59px;font-size:11px;line-height:11px;color:#000;transform-origin:0 0;">15.04.2024</span>
<span class="t" style="left:451.30px;top:816.59px;font-size:11px;line-height:11px;color:#000;transform:scaleX(0.9242);transform-origin:0 0;">ONUR HAYRİ US...</span>
<span class="t" style="left:629.30px;top:816.59px;font-size:11px;line-height:11px;color:#000;transform:scaleX(0.9260);transform-origin:0 0;">ONAYLANDI - S...</span>
<span class="t" style="left:788.01px;top:816.59px;font-size:11px;line-height:11px;color:#000;transform-origin:0 0;">703,96</span>
<span class="t" style="left:900.26px;top:816.59px;font-size:11px;line-height:11px;color:#000;transform-origin:0 0;">7,04</span>
<span class="t" style="left:988.83px;top:816.59px;font-size:11px;line-height:11px;color:#000;transform-origin:0 0;">711,00</span>
<span class="t" style="left:1200.26px;top:816.59px;font-size:11px;line-height:11px;color:#000;transform-origin:0 0;">0,00</span>
<span class="t" style="left:1229.30px;top:816.59px;font-size:11px;line-height:11px;color:#000;transform-origin:0 0;">600.20</span>
<span class="t" style="left:1400.26px;top:816.59px;font-size:11px;line-height:11px;color:#000;transform-origin:0 0;">0,00</span>
<span class="t" style="left:1429.30px;top:816.59px;font-size:11px;line-height:11px;color:#000;transform-origin:0 0;">391.20</span>
<span class="t" style="left:1700.26px;top:816.59px;font-size:11px;line-height:11px;color:#000;transform-origin:0 0;">0,00</span>
<span class="t" style="left:1729.30px;top:816.59px;font-size:11px;line-height:11px;color:#000;transform-origin:0 0;">600.18</span>
<span class="t" style="left:21.77px;top:838.59px;font-size:11px;line-height:11px;color:#000;transform-origin:0 0;">27</span>
<span class="t" style="left:48.30px;top:838.59px;font-size:11px;line-height:11px;color:#000;transform:scaleX(0.9108);transform-origin:0 0;">EARSIVFATURA</span>
<span class="t" style="left:148.30px;top:838.59px;font-size:11px;line-height:11px;color:#000;transform:scaleX(0.9278);transform-origin:0 0;">SATIS</span>
<span class="t" style="left:249.30px;top:838.59px;font-size:11px;line-height:11px;color:#0000ff;transform-origin:0 0;text-decoration:underline;">TRY2024000000...</span>
<span class="t" style="left:351.30px;top:838.59px;font-size:11px;line-height:11px;color:#000;transform-origin:0 0;">15.04.2024</span>
<span class="t" style="left:451.30px;top:838.59px;font-size:11px;line-height:11px;color:#000;transform:scaleX(0.9439);transform-origin:0 0;">HIZIRELİ SOSYA...</span>
<span class="t" style="left:629.30px;top:838.59px;font-size:11px;line-height:11px;color:#000;transform:scaleX(0.9260);transform-origin:0 0;">ONAYLANDI - S...</span>
<span class="t" style="left:772.70px;top:838.59px;font-size:11px;line-height:11px;color:#000;transform-origin:0 0;">79.208,30</span>
<span class="t" style="left:888.01px;top:838.59px;font-size:11px;line-height:11px;color:#000;transform-origin:0 0;">792,08</span>
<span class="t" style="left:972.70px;top:838.59px;font-size:11px;line-height:11px;color:#000;transform-origin:0 0;">80.000,38</span>
<span class="t" style="left:1200.26px;top:838.59px;font-size:11px;line-height:11px;color:#000;transform-origin:0 0;">0,00</span>
<span class="t" style="left:1229.30px;top:838.59px;font-size:11px;line-height:11px;color:#000;transform-origin:0 0;">600.20</span>
<span class="t" style="left:1400.26px;top:838.59px;font-size:11px;line-height:11px;color:#000;transform-origin:0 0;">0,00</span>
<span class="t" style="left:1429.30px;top:838.59px;font-size:11px;line-height:11px;color:#000;transform-origin:0 0;">391.20</span>
<span class="t" style="left:1700.26px;top:838.59px;font-size:11px;line-height:11px;color:#000;transform-origin:0 0;">0,00</span>
<span class="t" style="left:1729.30px;top:838.59px;font-size:11px;line-height:11px;color:#000;transform-origin:0 0;">600.18</span>
<span class="t" style="left:21.77px;top:860.59px;font-size:11px;line-height:11px;color:#000;transform-origin:0 0;">28</span>
<span class="t" style="left:48.30px;top:860.59px;font-size:11px;line-height:11px;color:#000;transform:scaleX(0.9221);transform-origin:0 0;">TICARIFATURA</span>
<span class="t" style="left:148.30px;top:860.59px;font-size:11px;line-height:11px;color:#000;transform:scaleX(0.9278);transform-origin:0 0;">SATIS</span>
<span class="t" style="left:249.30px;top:860.59px;font-size:11px;line-height:11px;color:#0000ff;transform:scaleX(0.9932);transform-origin:0 0;text-decoration:underline;">TRN2024000000...</span>
<span class="t" style="left:351.30px;top:860.59px;font-size:11px;line-height:11px;color:#000;transform-origin:0 0;">16.04.2024</span>
<span class="t" style="left:451.30px;top:860.59px;font-size:11px;line-height:11px;color:#000;transform:scaleX(0.9270);transform-origin:0 0;">ALTINORDU MA...</span>
<span class="t" style="left:629.30px;top:860.59px;font-size:11px;line-height:11px;color:#000;transform:scaleX(0.9260);transform-origin:0 0;">ONAYLANDI - S...</span>
<span class="t" style="left:772.70px;top:860.59px;font-size:11px;line-height:11px;color:#000;transform-origin:0 0;">52.584,47</span>
<span class="t" style="left:888.01px;top:860.59px;font-size:11px;line-height:11px;color:#000;transform-origin:0 0;">652,21</span>
<span class="t" style="left:972.70px;top:860.59px;font-size:11px;line-height:11px;color:#000;transform-origin:0 0;">53.236,68</span>
<span class="t" style="left:1200.26px;top:860.59px;font-size:11px;line-height:11px;color:#000;transform-origin:0 0;">0,00</span>
<span class="t" style="left:1229.30px;top:860.59px;font-size:11px;line-height:11px;color:#000;transform-origin:0 0;">600.20</span>
<span class="t" style="left:1400.26px;top:860.59px;font-size:11px;line-height:11px;color:#000;transform-origin:0 0;">0,00</span>
<span class="t" style="left:1429.30px;top:860.59px;font-size:11px;line-height:11px;color:#000;transform-origin:0 0;">391.20</span>
<span class="t" style="left:1700.26px;top:860.59px;font-size:11px;line-height:11px;color:#000;transform-origin:0 0;">0,00</span>
<span class="t" style="left:1729.30px;top:860.59px;font-size:11px;line-height:11px;color:#000;transform-origin:0 0;">600.18</span>
<span class="t" style="left:21.77px;top:882.59px;font-size:11px;line-height:11px;color:#000;transform-origin:0 0;">29</span>
<span class="t" style="left:48.30px;top:882.59px;font-size:11px;line-height:11px;color:#000;transform:scaleX(0.9007);transform-origin:0 0;">TEMELFATURA</span>
<span class="t" style="left:148.30px;top:882.59px;font-size:11px;line-height:11px;color:#000;transform:scaleX(0.9335);transform-origin:0 0;">IADE</span>
<span class="t" style="left:249.30px;top:882.59px;font-size:11px;line-height:11px;color:#0000ff;transform:scaleX(0.9932);transform-origin:0 0;text-decoration:underline;">TRN2024000000...</span>
<span class="t" style="left:351.30px;top:882.59px;font-size:11px;line-height:11px;color:#000;transform-origin:0 0;">16.04.2024</span>
<span class="t" style="left:451.30px;top:882.59px;font-size:11px;line-height:11px;color:#000;transform:scaleX(0.9168);transform-origin:0 0;">EKER SÜT ÜRÜN...</span>
<span class="t" style="left:629.30px;top:882.59px;font-size:11px;line-height:11px;color:#000;transform:scaleX(0.9240);transform-origin:0 0;">BEKLEMEDE - IA...</span>
<span class="t" style="left:778.83px;top:882.59px;font-size:11px;line-height:11px;color:#000;transform-origin:0 0;">1.701,42</span>
<span class="t" style="left:894.14px;top:882.59px;font-size:11px;line-height:11px;color:#000;transform-origin:0 0;">17,00</span>
<span class="t" style="left:978.83px;top:882.59px;font-size:11px;line-height:11px;color:#000;transform-origin:0 0;">1.718,42</span>
<span class="t" style="left:1200.26px;top:882.59px;font-size:11px;line-height:11px;color:#000;transform-origin:0 0;">0,00</span>
<span class="t" style="left:1229.30px;top:882.59px;font-size:11px;line-height:11px;color:#000;transform-origin:0 0;">153.20</span>
<span class="t" style="left:1400.26px;top:882.59px;font-size:11px;line-height:11px;color:#000;transform-origin:0 0;">0,00</span>
<span class="t" style="left:1429.30px;top:882.59px;font-size:11px;line-height:11px;color:#000;transform-origin:0 0;">391.20</span>
<span class="t" style="left:1700.26px;top:882.59px;font-size:11px;line-height:11px;color:#000;transform-origin:0 0;">0,00</span>
<span class="t" style="left:1729.30px;top:882.59px;font-size:11px;line-height:11px;color:#000;transform-origin:0 0;">153.18</span>
<span class="t" style="left:21.77px;top:904.59px;font-size:11px;line-height:11px;color:#000;transform-origin:0 0;">30</span>
<span class="t" style="left:48.30px;top:904.59px;font-size:11px;line-height:11px;color:#000;transform:scaleX(0.9007);transform-origin:0 0;">TEMELFATURA</span>
<span class="t" style="left:148.30px;top:904.59px;font-size:11px;line-height:11px;color:#000;transform:scaleX(0.9278);transform-origin:0 0;">SATIS</span>
<span class="t" style="left:249.30px;top:904.59px;font-size:11px;line-height:11px;color:#0000ff;transform:scaleX(0.9932);transform-origin:0 0;text-decoration:underline;">TRN2024000000...</span>
<span class="t" style="left:351.30px;top:904.59px;font-size:11px;line-height:11px;color:#000;transform-origin:0 0;">16.04.2024</span>
<span class="t" style="left:451.30px;top:904.59px;font-size:11px;line-height:11px;color:#000;transform:scaleX(0.9310);transform-origin:0 0;">KALE GIDA SAN...</span>
<span class="t" style="left:629.30px;top:904.59px;font-size:11px;line-height:11px;color:#000;transform:scaleX(0.9146);transform-origin:0 0;">BEKLEMEDE - SA...</span>
<span class="t" style="left:772.70px;top:904.59px;font-size:11px;line-height:11px;color:#000;transform-origin:0 0;">12.425,13</span>
<span class="t" style="left:878.83px;top:904.59px;font-size:11px;line-height:11px;color:#000;transform-origin:0 0;">2.485,03</span>
<span class="t" style="left:972.70px;top:904.59px;font-size:11px;line-height:11px;color:#000;transform-origin:0 0;">14.910,16</span>
<span class="t" style="left:1172.70px;top:904.59px;font-size:11px;line-height:11px;color:#000;transform-origin:0 0;">12.425,13</span>
<span class="t" style="left:1229.30px;top:904.59px;font-size:11px;line-height:11px;color:#000;transform-origin:0 0;">600.20</span>
<span class="t" style="left:1378.83px;top:904.59px;font-size:11px;line-height:11px;color:#000;transform-origin:0 0;">2.485,03</span>
<span class="t" style="left:1429.30px;top:904.59px;font-size:11px;line-height:11px;color:#000;transform-origin:0 0;">391.20</span>
<span class="t" style="left:1700.26px;top:904.59px;font-size:11px;line-height:11px;color:#000;transform-origin:0 0;">0,00</span>
<span class="t" style="left:1729.30px;top:904.59px;font-size:11px;line-height:11px;color:#000;transform-origin:0 0;">600.18</span>
<span class="t" style="left:21.77px;top:926.59px;font-size:11px;line-height:11px;color:#000;transform-origin:0 0;">31</span>
<span class="t" style="left:48.30px;top:926.59px;font-size:11px;line-height:11px;color:#000;transform:scaleX(0.9007);transform-origin:0 0;">TEMELFATURA</span>
<span class="t" style="left:148.30px;top:926.59px;font-size:11px;line-height:11px;color:#000;transform:scaleX(0.9278);transform-origin:0 0;">SATIS</span>
<span class="t" style="left:249.30px;top:926.59px;font-size:11px;line-height:11px;color:#0000ff;transform:scaleX(0.9932);transform-origin:0 0;text-decoration:underline;">TRN2024000000...</span>
<span class="t" style="left:351.30px;top:926.59px;font-size:11px;line-height:11px;color:#000;transform-origin:0 0;">16.04.2024</span>
<span class="t" style="left:451.30px;top:926.59px;font-size:11px;line-height:11px;color:#000;transform:scaleX(0.9342);transform-origin:0 0;">SERTELLİ İNŞAA...</span>
<span class="t" style="left:629.30px;top:926.59px;font-size:11px;line-height:11px;color:#000;transform:scaleX(0.9146);transform-origin:0 0;">BEKLEMEDE - SA...</span>
<span class="t" style="left:779.64px;top:926.59px;font-size:11px;line-height:11px;color:#000;transform-origin:0 0;">1.089,11</span>
<span class="t" style="left:894.14px;top:926.59px;font-size:11px;line-height:11px;color:#000;transform-origin:0 0;">10,89</span>
<span class="t" style="left:978.83px;top:926.59px;font-size:11px;line-height:11px;color:#000;transform-origin:0 0;">1.100,00</span>
<span class="t" style="left:1200.26px;top:926.59px;font-size:11px;line-height:11px;color:#000;transform-origin:0 0;">0,00</span>
<span class="t" style="left:1229.30px;top:926.59px;font-size:11px;line-height:11px;color:#000;transform-origin:0 0;">600.20</span>
<span class="t" style="left:1400.26px;top:926.59px;font-size:11px;line-height:11px;color:#000;transform-origin:0 0;">0,00</span>
<span class="t" style="left:1429.30px;top:926.59px;font-size:11px;line-height:11px;color:#000;transform-origin:0 0;">391.20</span>
<span class="t" style="left:1700.26px;top:926.59px;font-size:11px;line-height:11px;color:#000;transform-origin:0 0;">0,00</span>
<span class="t" style="left:1729.30px;top:926.59px;font-size:11px;line-height:11px;color:#000;transform-origin:0 0;">600.18</span>
<span class="t" style="left:21.77px;top:948.59px;font-size:11px;line-height:11px;color:#000;transform-origin:0 0;">32</span>
<span class="t" style="left:48.30px;top:948.59px;font-size:11px;line-height:11px;color:#000;transform:scaleX(0.9007);transform-origin:0 0;">TEMELFATURA</span>
<span class="t" style="left:148.30px;top:948.59px;font-size:11px;line-height:11px;color:#000;transform:scaleX(0.9278);transform-origin:0 0;">SATIS</span>
<span class="t" style="left:249.30px;top:948.59px;font-size:11px;line-height:11px;color:#0000ff;transform:scaleX(0.9932);transform-origin:0 0;text-decoration:underline;">TRN2024000000...</span>
<span class="t" style="left:351.30px;top:948.59px;font-size:11px;line-height:11px;color:#000;transform-origin:0 0;">16.04.2024</span>
<span class="t" style="left:451.30px;top:948.59px;font-size:11px;line-height:11px;color:#000;transform:scaleX(0.9264);transform-origin:0 0;">EMİNE DOLGAN...</span>
<span class="t" style="left:629.30px;top:948.59px;font-size:11px;line-height:11px;color:#000;transform:scaleX(0.9146);transform-origin:0 0;">BEKLEMEDE - SA...</span>
<span class="t" style="left:778.83px;top:948.59px;font-size:11px;line-height:11px;color:#000;transform-origin:0 0;">2.749,85</span>
<span class="t" style="left:894.14px;top:948.59px;font-size:11px;line-height:11px;color:#000;transform-origin:0 0;">27,15</span>
<span class="t" style="left:978.83px;top:948.59px;font-size:11px;line-height:11px;color:#000;transform-origin:0 0;">2.777,00</span>
<span class="t" style="left:1200.26px;top:948.59px;font-size:11px;line-height:11px;color:#000;transform-origin:0 0;">0,00</span>
<span class="t" style="left:1229.30px;top:948.59px;font-size:11px;line-height:11px;color:#000;transform-origin:0 0;">600.20</span>
<span class="t" style="left:1400.26px;top:948.59px;font-size:11px;line-height:11px;color:#000;transform-origin:0 0;">0,00</span>
<span class="t" style="left:1429.30px;top:948.59px;font-size:11px;line-height:11px;color:#000;transform-origin:0 0;">391.20</span>
<span class="t" style="left:1700.26px;top:948.59px;font-size:11px;line-height:11px;color:#000;transform-origin:0 0;">0,00</span>
<span class="t" style="left:1729.30px;top:948.59px;font-size:11px;line-height:11px;color:#000;transform-origin:0 0;">600.18</span>
<svg style="position:absolute;left:11px;top:267px" width="6" height="10"><path d="M0 0L5 5L0 10Z" fill="#333"/></svg>
<div style="left:5px;top:951px;width:1894px;height:17px;background:#f0f0f0"></div>
<div style="left:22px;top:952px;width:735px;height:15px;background:#cdcdcd"></div>
<svg style="position:absolute;left:9px;top:955px" width="8" height="10"><path d="M5.5 1.5L2.2 5L5.5 8.5" fill="none" stroke="#606060" stroke-width="2"/></svg>
<svg style="position:absolute;left:1886px;top:955px" width="8" height="10"><path d="M2 1.5L5.3 5L2 8.5" fill="none" stroke="#606060" stroke-width="2"/></svg>
<div style="left:1899px;top:184px;width:16px;height:784px;background:#f0f0f0"></div>
<div style="left:1899px;top:201px;width:15px;height:307px;background:#cdcdcd"></div>
<svg style="position:absolute;left:1902px;top:189px" width="10" height="8"><path d="M1.5 5.8L4.8 2.5L8.1 5.8" fill="none" stroke="#606060" stroke-width="2"/></svg>
<svg style="position:absolute;left:1902px;top:938px" width="10" height="9"><path d="M1.5 2.5L5 6L8.5 2.5" fill="none" stroke="#606060" stroke-width="2"/></svg>
<div style="left:548px;top:183px;width:79px;height:770px;border:3px solid #05ac32;box-sizing:border-box"></div>
<div style="left:0px;top:1015px;width:1920px;height:1px;background:#a0a0a0"></div>
<div style="left:1px;top:1014px;width:1918px;height:1px;background:#fff"></div>
<div style="left:1918px;top:48px;width:1px;height:967px;background:#fff"></div>
<div style="left:1px;top:991px;width:1499px;height:1px;background:#d7d7d7"></div>
<div style="left:2px;top:994px;width:90px;height:18px;border-top:1px solid #a0a0a0;border-left:1px solid #a0a0a0;border-bottom:1px solid #fff;border-right:1px solid #fff;box-sizing:border-box"></div>
<span class="t" style="left:7.50px;top:998.34px;font-size:12px;line-height:12px;color:#000;transform:scaleX(0.9034);transform-origin:0 0;">Fatura Sayısı:74</span>
<div style="left:93px;top:994px;width:72px;height:19px;background:#008000;border-right:1px solid #fff;border-bottom:2px solid #00a000;box-sizing:border-box"></div>
<span class="t" style="left:101.50px;top:998.34px;font-size:12px;line-height:12px;color:#fff;transform:scaleX(0.9172);transform-origin:0 0;">Bakiye:0,00</span>
<div style="left:166px;top:994px;width:171px;height:18px;border-top:1px solid #a0a0a0;border-left:1px solid #a0a0a0;border-bottom:1px solid #fff;border-right:1px solid #fff;box-sizing:border-box"></div>
<span class="t" style="left:173.30px;top:998.34px;font-size:12px;line-height:12px;color:#000;transform:scaleX(0.9487);transform-origin:0 0;">Kdv Hariç Toplam:1.276.191,50</span>
<div style="left:338px;top:994px;width:126px;height:18px;border-top:1px solid #a0a0a0;border-left:1px solid #a0a0a0;border-bottom:1px solid #fff;border-right:1px solid #fff;box-sizing:border-box"></div>
<span class="t" style="left:346.70px;top:998.34px;font-size:12px;line-height:12px;color:#000;transform:scaleX(0.9424);transform-origin:0 0;">Toplam Kdv:57.915,47</span>
<div style="left:465px;top:994px;width:107px;height:18px;border-top:1px solid #a0a0a0;border-left:1px solid #a0a0a0;border-bottom:1px solid #fff;border-right:1px solid #fff;box-sizing:border-box"></div>
<span class="t" style="left:473.60px;top:998.34px;font-size:12px;line-height:12px;color:#000;transform:scaleX(0.9357);transform-origin:0 0;">Diğer Vergiler:0,00</span>
<div style="left:573px;top:994px;width:151px;height:18px;border-top:1px solid #a0a0a0;border-left:1px solid #a0a0a0;border-bottom:1px solid #fff;border-right:1px solid #fff;box-sizing:border-box"></div>
<span class="t" style="left:581.40px;top:998.34px;font-size:12px;line-height:12px;color:#000;transform:scaleX(0.9343);transform-origin:0 0;">Genel Toplam:1.334.106,97</span>
<div style="left:725px;top:994px;width:1px;height:18px;background:#a0a0a0"></div>
<div style="left:729px;top:994px;width:1px;height:18px;background:#a0a0a0"></div>
<div style="left:1664px;top:985px;width:129px;height:21px;background:#e1e1e1;border:1px solid #adadad;box-sizing:border-box"></div>
<div style="left:1667px;top:988px;width:122px;height:15px;background:#008000"></div>
<span class="t" style="left:1671.40px;top:989.84px;font-size:12px;line-height:12px;font-weight:bold;color:#fff;transform:scaleX(1.0334);transform-origin:0 0;">DIŞARI AKTAR - F2</span>
<div style="left:1800px;top:985px;width:115px;height:21px;background:#e1e1e1;border:1px solid #adadad;box-sizing:border-box"></div>
<div style="left:1803px;top:988px;width:109px;height:15px;background:#cd5c5c"></div>
<span class="t" style="left:1814.00px;top:989.84px;font-size:12px;line-height:12px;font-weight:bold;color:#fff;transform:scaleX(1.0067);transform-origin:0 0;">VAZGEÇ - ESC</span>
<div style="left:1px;top:1019px;width:46px;height:18px;border-top:1px solid #a0a0a0;border-left:1px solid #a0a0a0;border-bottom:1px solid #fff;border-right:1px solid #fff;box-sizing:border-box"></div>
<span class="t" style="left:6.50px;top:1023.34px;font-size:12px;line-height:12px;color:#000;transform:scaleX(0.8554);transform-origin:0 0;">DEBUG</span>
<div style="left:49px;top:1019px;width:95px;height:18px;border-top:1px solid #a0a0a0;border-left:1px solid #a0a0a0;border-bottom:1px solid #fff;border-right:1px solid #fff;box-sizing:border-box"></div>
<span class="t" style="left:54.50px;top:1023.34px;font-size:12px;line-height:12px;color:#000;transform:scaleX(0.9225);transform-origin:0 0;">Versiyon : 5.1.0.0</span>
</body></html>
